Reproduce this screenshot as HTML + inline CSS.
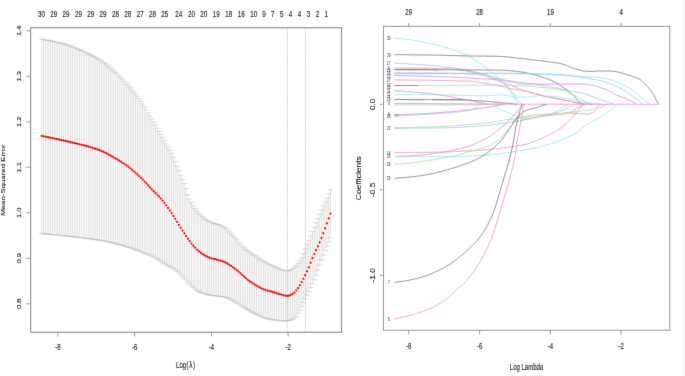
<!DOCTYPE html>
<html><head><meta charset="utf-8"><title>LASSO</title>
<style>
html,body{margin:0;padding:0;background:#fff;}
body{width:685px;height:376px;overflow:hidden;font-family:"Liberation Sans",sans-serif;}
svg{display:block;font-family:"Liberation Sans",sans-serif;}
</style></head><body>
<svg width="685" height="376" viewBox="0 0 685 376">
<defs><filter id="soft" x="0" y="0" width="685" height="376" filterUnits="userSpaceOnUse"><feConvolveMatrix order="3" kernelMatrix="0 1 0 1 8 1 0 1 0" divisor="12" edgeMode="duplicate" preserveAlpha="true"/></filter><filter id="softt" x="0" y="0" width="685" height="376" filterUnits="userSpaceOnUse"><feConvolveMatrix order="3" kernelMatrix="0 1 0 1 10 1 0 1 0" divisor="14" edgeMode="duplicate" preserveAlpha="false"/></filter></defs>
<g filter="url(#soft)"><rect x="-5" y="-5" width="695" height="386" fill="#ffffff"/>
<path d="M41.70,39.0V233.4M43.51,39.4V233.6M45.31,39.8V233.8M47.12,40.1V234.0M48.92,40.5V234.2M50.73,40.8V234.4M52.53,41.2V234.6M54.34,41.6V234.8M56.14,42.0V235.0M57.95,42.4V235.2M59.75,42.8V235.4M61.56,43.2V235.5M63.36,43.7V235.7M65.17,44.3V235.9M66.97,44.8V236.1M68.78,45.4V236.3M70.58,46.0V236.5M72.39,46.7V236.7M74.19,47.4V236.9M76.00,48.1V237.1M77.80,48.9V237.3M79.61,49.6V237.5M81.41,50.4V237.7M83.22,51.2V237.9M85.02,52.1V238.1M86.83,52.9V238.3M88.63,53.8V238.6M90.44,54.6V238.8M92.24,55.6V239.1M94.05,56.5V239.3M95.85,57.5V239.6M97.66,58.6V239.9M99.46,59.7V240.2M101.27,60.8V240.5M103.07,62.1V240.8M104.88,63.4V241.1M106.68,64.8V241.5M108.49,66.3V241.9M110.29,67.8V242.3M112.10,69.3V242.7M113.90,70.9V243.2M115.71,72.5V243.6M117.51,74.2V244.1M119.32,76.0V244.6M121.12,77.7V245.1M122.93,79.6V245.7M124.73,81.5V246.2M126.54,83.4V246.7M128.34,85.4V247.3M130.15,87.6V247.8M131.95,89.8V248.4M133.75,92.0V249.0M135.56,93.9V249.6M137.37,96.0V250.2M139.17,98.4V250.9M140.98,101.0V251.6M142.78,103.9V252.3M144.59,106.8V253.0M146.39,109.9V253.7M148.19,113.0V254.5M150.00,116.1V255.3M151.81,119.1V256.1M153.61,122.1V257.0M155.42,125.1V258.0M157.22,128.1V259.0M159.03,131.2V260.1M160.83,134.3V261.3M162.64,137.5V262.3M164.44,140.6V263.4M166.25,143.8V264.4M168.05,146.9V265.4M169.86,150.1V266.4M171.66,153.6V267.4M173.47,157.4V268.6M175.27,161.7V269.9M177.07,166.1V271.4M178.88,170.7V273.1M180.69,175.1V275.0M182.49,179.3V277.0M184.30,183.6V278.9M186.10,188.5V280.8M187.91,194.7V282.5M189.71,199.0V284.2M191.52,202.7V285.9M193.32,205.9V287.6M195.12,208.6V289.1M196.93,210.9V290.5M198.74,212.9V291.7M200.54,214.8V292.5M202.35,216.5V293.1M204.15,218.0V293.7M205.96,219.4V294.1M207.76,220.6V294.6M209.56,221.6V294.9M211.37,222.4V295.3M213.18,223.1V295.6M214.98,223.6V295.9M216.79,224.1V296.1M218.59,224.6V296.3M220.40,225.2V296.5M222.20,226.1V296.7M224.00,227.2V297.0M225.81,228.5V297.4M227.62,230.1V298.1M229.42,231.8V298.9M231.23,233.7V299.9M233.03,235.6V300.9M234.84,237.6V302.0M236.64,239.6V303.0M238.44,242.1V304.0M240.25,244.3V305.1M242.06,246.1V306.2M243.86,247.7V307.3M245.67,249.2V308.5M247.47,250.5V309.6M249.28,251.9V310.6M251.08,253.2V311.6M252.89,254.4V312.6M254.69,255.6V313.6M256.50,256.8V314.6M258.30,258.0V315.5M260.11,259.1V316.3M261.91,260.1V317.0M263.72,261.2V317.6M265.52,262.2V318.1M267.33,263.2V318.6M269.13,264.1V319.1M270.94,265.0V319.4M272.74,265.8V319.8M274.55,266.6V320.0M276.35,267.4V320.2M278.16,268.2V320.3M279.96,269.0V320.5M281.77,269.7V320.6M283.57,270.3V320.7M285.38,270.7V320.8M287.18,270.9V320.8M288.99,270.6V320.6M290.79,269.8V320.0M292.60,268.5V319.3M294.40,267.1V318.3M296.21,265.5V316.4M298.01,263.3V313.4M299.81,260.8V310.2M301.62,257.8V306.4M303.43,253.6V302.6M305.23,249.0V298.9M307.04,244.7V295.2M308.84,240.4V291.5M310.65,236.0V287.7M312.45,231.6V283.8M314.25,227.1V279.7M316.06,222.7V275.2M317.87,218.4V270.2M319.67,214.1V265.3M321.48,210.0V260.2M323.28,205.9V255.2M325.09,201.9V250.5M326.89,197.9V246.3M328.69,193.8V242.1M330.50,189.8V238.0" stroke="#c2c2c2" stroke-width="0.5" fill="none"/>
<path d="M38.90,39.0h5.6M38.90,233.4h5.6M40.71,39.4h5.6M40.71,233.6h5.6M42.51,39.8h5.6M42.51,233.8h5.6M44.32,40.1h5.6M44.32,234.0h5.6M46.12,40.5h5.6M46.12,234.2h5.6M47.93,40.8h5.6M47.93,234.4h5.6M49.73,41.2h5.6M49.73,234.6h5.6M51.54,41.6h5.6M51.54,234.8h5.6M53.34,42.0h5.6M53.34,235.0h5.6M55.15,42.4h5.6M55.15,235.2h5.6M56.95,42.8h5.6M56.95,235.4h5.6M58.76,43.2h5.6M58.76,235.5h5.6M60.56,43.7h5.6M60.56,235.7h5.6M62.37,44.3h5.6M62.37,235.9h5.6M64.17,44.8h5.6M64.17,236.1h5.6M65.98,45.4h5.6M65.98,236.3h5.6M67.78,46.0h5.6M67.78,236.5h5.6M69.59,46.7h5.6M69.59,236.7h5.6M71.39,47.4h5.6M71.39,236.9h5.6M73.20,48.1h5.6M73.20,237.1h5.6M75.00,48.9h5.6M75.00,237.3h5.6M76.81,49.6h5.6M76.81,237.5h5.6M78.61,50.4h5.6M78.61,237.7h5.6M80.42,51.2h5.6M80.42,237.9h5.6M82.22,52.1h5.6M82.22,238.1h5.6M84.03,52.9h5.6M84.03,238.3h5.6M85.83,53.8h5.6M85.83,238.6h5.6M87.64,54.6h5.6M87.64,238.8h5.6M89.44,55.6h5.6M89.44,239.1h5.6M91.25,56.5h5.6M91.25,239.3h5.6M93.05,57.5h5.6M93.05,239.6h5.6M94.86,58.6h5.6M94.86,239.9h5.6M96.66,59.7h5.6M96.66,240.2h5.6M98.47,60.8h5.6M98.47,240.5h5.6M100.27,62.1h5.6M100.27,240.8h5.6M102.08,63.4h5.6M102.08,241.1h5.6M103.88,64.8h5.6M103.88,241.5h5.6M105.69,66.3h5.6M105.69,241.9h5.6M107.49,67.8h5.6M107.49,242.3h5.6M109.30,69.3h5.6M109.30,242.7h5.6M111.10,70.9h5.6M111.10,243.2h5.6M112.91,72.5h5.6M112.91,243.6h5.6M114.71,74.2h5.6M114.71,244.1h5.6M116.52,76.0h5.6M116.52,244.6h5.6M118.32,77.7h5.6M118.32,245.1h5.6M120.13,79.6h5.6M120.13,245.7h5.6M121.93,81.5h5.6M121.93,246.2h5.6M123.74,83.4h5.6M123.74,246.7h5.6M125.54,85.4h5.6M125.54,247.3h5.6M127.35,87.6h5.6M127.35,247.8h5.6M129.15,89.8h5.6M129.15,248.4h5.6M130.95,92.0h5.6M130.95,249.0h5.6M132.76,93.9h5.6M132.76,249.6h5.6M134.56,96.0h5.6M134.56,250.2h5.6M136.37,98.4h5.6M136.37,250.9h5.6M138.18,101.0h5.6M138.18,251.6h5.6M139.98,103.9h5.6M139.98,252.3h5.6M141.78,106.8h5.6M141.78,253.0h5.6M143.59,109.9h5.6M143.59,253.7h5.6M145.39,113.0h5.6M145.39,254.5h5.6M147.20,116.1h5.6M147.20,255.3h5.6M149.00,119.1h5.6M149.00,256.1h5.6M150.81,122.1h5.6M150.81,257.0h5.6M152.62,125.1h5.6M152.62,258.0h5.6M154.42,128.1h5.6M154.42,259.0h5.6M156.23,131.2h5.6M156.23,260.1h5.6M158.03,134.3h5.6M158.03,261.3h5.6M159.84,137.5h5.6M159.84,262.3h5.6M161.64,140.6h5.6M161.64,263.4h5.6M163.44,143.8h5.6M163.44,264.4h5.6M165.25,146.9h5.6M165.25,265.4h5.6M167.06,150.1h5.6M167.06,266.4h5.6M168.86,153.6h5.6M168.86,267.4h5.6M170.67,157.4h5.6M170.67,268.6h5.6M172.47,161.7h5.6M172.47,269.9h5.6M174.27,166.1h5.6M174.27,271.4h5.6M176.08,170.7h5.6M176.08,273.1h5.6M177.88,175.1h5.6M177.88,275.0h5.6M179.69,179.3h5.6M179.69,277.0h5.6M181.50,183.6h5.6M181.50,278.9h5.6M183.30,188.5h5.6M183.30,280.8h5.6M185.11,194.7h5.6M185.11,282.5h5.6M186.91,199.0h5.6M186.91,284.2h5.6M188.72,202.7h5.6M188.72,285.9h5.6M190.52,205.9h5.6M190.52,287.6h5.6M192.32,208.6h5.6M192.32,289.1h5.6M194.13,210.9h5.6M194.13,290.5h5.6M195.94,212.9h5.6M195.94,291.7h5.6M197.74,214.8h5.6M197.74,292.5h5.6M199.55,216.5h5.6M199.55,293.1h5.6M201.35,218.0h5.6M201.35,293.7h5.6M203.16,219.4h5.6M203.16,294.1h5.6M204.96,220.6h5.6M204.96,294.6h5.6M206.76,221.6h5.6M206.76,294.9h5.6M208.57,222.4h5.6M208.57,295.3h5.6M210.38,223.1h5.6M210.38,295.6h5.6M212.18,223.6h5.6M212.18,295.9h5.6M213.99,224.1h5.6M213.99,296.1h5.6M215.79,224.6h5.6M215.79,296.3h5.6M217.60,225.2h5.6M217.60,296.5h5.6M219.40,226.1h5.6M219.40,296.7h5.6M221.20,227.2h5.6M221.20,297.0h5.6M223.01,228.5h5.6M223.01,297.4h5.6M224.81,230.1h5.6M224.81,298.1h5.6M226.62,231.8h5.6M226.62,298.9h5.6M228.43,233.7h5.6M228.43,299.9h5.6M230.23,235.6h5.6M230.23,300.9h5.6M232.04,237.6h5.6M232.04,302.0h5.6M233.84,239.6h5.6M233.84,303.0h5.6M235.64,242.1h5.6M235.64,304.0h5.6M237.45,244.3h5.6M237.45,305.1h5.6M239.25,246.1h5.6M239.25,306.2h5.6M241.06,247.7h5.6M241.06,307.3h5.6M242.87,249.2h5.6M242.87,308.5h5.6M244.67,250.5h5.6M244.67,309.6h5.6M246.48,251.9h5.6M246.48,310.6h5.6M248.28,253.2h5.6M248.28,311.6h5.6M250.09,254.4h5.6M250.09,312.6h5.6M251.89,255.6h5.6M251.89,313.6h5.6M253.69,256.8h5.6M253.69,314.6h5.6M255.50,258.0h5.6M255.50,315.5h5.6M257.31,259.1h5.6M257.31,316.3h5.6M259.11,260.1h5.6M259.11,317.0h5.6M260.92,261.2h5.6M260.92,317.6h5.6M262.72,262.2h5.6M262.72,318.1h5.6M264.53,263.2h5.6M264.53,318.6h5.6M266.33,264.1h5.6M266.33,319.1h5.6M268.13,265.0h5.6M268.13,319.4h5.6M269.94,265.8h5.6M269.94,319.8h5.6M271.75,266.6h5.6M271.75,320.0h5.6M273.55,267.4h5.6M273.55,320.2h5.6M275.36,268.2h5.6M275.36,320.3h5.6M277.16,269.0h5.6M277.16,320.5h5.6M278.97,269.7h5.6M278.97,320.6h5.6M280.77,270.3h5.6M280.77,320.7h5.6M282.57,270.7h5.6M282.57,320.8h5.6M284.38,270.9h5.6M284.38,320.8h5.6M286.19,270.6h5.6M286.19,320.6h5.6M287.99,269.8h5.6M287.99,320.0h5.6M289.80,268.5h5.6M289.80,319.3h5.6M291.60,267.1h5.6M291.60,318.3h5.6M293.41,265.5h5.6M293.41,316.4h5.6M295.21,263.3h5.6M295.21,313.4h5.6M297.01,260.8h5.6M297.01,310.2h5.6M298.82,257.8h5.6M298.82,306.4h5.6M300.62,253.6h5.6M300.62,302.6h5.6M302.43,249.0h5.6M302.43,298.9h5.6M304.24,244.7h5.6M304.24,295.2h5.6M306.04,240.4h5.6M306.04,291.5h5.6M307.85,236.0h5.6M307.85,287.7h5.6M309.65,231.6h5.6M309.65,283.8h5.6M311.45,227.1h5.6M311.45,279.7h5.6M313.26,222.7h5.6M313.26,275.2h5.6M315.06,218.4h5.6M315.06,270.2h5.6M316.87,214.1h5.6M316.87,265.3h5.6M318.68,210.0h5.6M318.68,260.2h5.6M320.48,205.9h5.6M320.48,255.2h5.6M322.29,201.9h5.6M322.29,250.5h5.6M324.09,197.9h5.6M324.09,246.3h5.6M325.89,193.8h5.6M325.89,242.1h5.6M327.70,189.8h5.6M327.70,238.0h5.6" stroke="#b2b2b2" stroke-width="0.5" fill="none"/>
<line x1="287.3" y1="27.7" x2="287.3" y2="332.3" stroke="#a8a8a8" stroke-width="0.7" stroke-dasharray="1.2,1"/>
<line x1="305.4" y1="27.7" x2="305.4" y2="332.3" stroke="#a8a8a8" stroke-width="0.7" stroke-dasharray="1.2,1"/>
<rect x="30.6" y="27.7" width="310.9" height="304.6" fill="none" stroke="#939393" stroke-width="1.25"/>
<line x1="57.9" y1="332.3" x2="57.9" y2="336.5" stroke="#8a8a8a" stroke-width="0.9"/>
<line x1="134.7" y1="332.3" x2="134.7" y2="336.5" stroke="#8a8a8a" stroke-width="0.9"/>
<line x1="211.5" y1="332.3" x2="211.5" y2="336.5" stroke="#8a8a8a" stroke-width="0.9"/>
<line x1="288.1" y1="332.3" x2="288.1" y2="336.5" stroke="#8a8a8a" stroke-width="0.9"/>
<line x1="26.400000000000002" y1="30.8" x2="30.6" y2="30.8" stroke="#8a8a8a" stroke-width="0.9"/>
<line x1="26.400000000000002" y1="76.3" x2="30.6" y2="76.3" stroke="#8a8a8a" stroke-width="0.9"/>
<line x1="26.400000000000002" y1="121.8" x2="30.6" y2="121.8" stroke="#8a8a8a" stroke-width="0.9"/>
<line x1="26.400000000000002" y1="167.3" x2="30.6" y2="167.3" stroke="#8a8a8a" stroke-width="0.9"/>
<line x1="26.400000000000002" y1="212.8" x2="30.6" y2="212.8" stroke="#8a8a8a" stroke-width="0.9"/>
<line x1="26.400000000000002" y1="258.3" x2="30.6" y2="258.3" stroke="#8a8a8a" stroke-width="0.9"/>
<line x1="26.400000000000002" y1="303.8" x2="30.6" y2="303.8" stroke="#8a8a8a" stroke-width="0.9"/>
<path d="M394.3,38.0 L395.8,38.2 L397.3,38.3 L398.8,38.5 L400.3,38.6 L401.8,38.8 L403.3,38.9 L404.8,39.1 L406.3,39.3 L407.8,39.4 L409.3,39.6 L410.8,39.8 L412.3,40.0 L413.8,40.2 L415.3,40.4 L416.8,40.7 L418.3,40.9 L419.8,41.2 L421.3,41.5 L422.8,41.8 L424.3,42.2 L425.8,42.5 L427.3,42.9 L428.8,43.2 L430.3,43.6 L431.8,44.0 L433.3,44.3 L434.8,44.7 L436.3,45.1 L437.8,45.4 L439.3,45.8 L440.8,46.2 L442.3,46.6 L443.8,47.0 L445.3,47.4 L446.8,47.8 L448.3,48.2 L449.8,48.7 L451.3,49.1 L452.8,49.6 L454.3,50.1 L455.8,50.7 L457.3,51.2 L458.8,51.8 L460.3,52.4 L461.8,53.0 L463.3,53.6 L464.8,54.3 L466.3,55.0 L467.8,55.7 L469.3,56.5 L470.8,57.4 L472.3,58.3 L473.8,59.2 L475.3,60.2 L476.8,61.2 L478.3,62.2 L479.8,63.1 L481.3,64.1 L482.8,65.2 L484.3,66.2 L485.8,67.3 L487.3,68.5 L488.8,69.7 L490.3,70.9 L491.8,72.2 L493.3,73.6 L494.8,75.0 L496.3,76.4 L497.8,77.9 L499.3,79.2 L500.8,80.6 L502.3,82.0 L503.8,83.4 L505.3,84.9 L506.8,86.6 L508.3,88.5 L509.8,90.7 L511.3,92.9 L512.8,95.3 L514.3,97.8 L515.8,100.4 L517.3,103.1 L518.0,104.3" stroke="#86e8ec" stroke-width="0.8" fill="none" stroke-linejoin="round"/>
<path d="M394.3,54.6 L395.8,54.6 L397.3,54.6 L398.8,54.6 L400.3,54.7 L401.8,54.7 L403.3,54.7 L404.8,54.7 L406.3,54.7 L407.8,54.7 L409.3,54.8 L410.8,54.8 L412.3,54.8 L413.8,54.8 L415.3,54.8 L416.8,54.8 L418.3,54.9 L419.8,54.9 L421.3,54.9 L422.8,54.9 L424.3,54.9 L425.8,55.0 L427.3,55.0 L428.8,55.0 L430.3,55.0 L431.8,55.0 L433.3,55.1 L434.8,55.1 L436.3,55.1 L437.8,55.2 L439.3,55.2 L440.8,55.2 L442.3,55.3 L443.8,55.3 L445.3,55.4 L446.8,55.4 L448.3,55.4 L449.8,55.5 L451.3,55.5 L452.8,55.6 L454.3,55.6 L455.8,55.6 L457.3,55.7 L458.8,55.7 L460.3,55.8 L461.8,55.8 L463.3,55.8 L464.8,55.9 L466.3,55.9 L467.8,55.9 L469.3,55.9 L470.8,56.0 L472.3,56.0 L473.8,56.0 L475.3,56.0 L476.8,56.0 L478.3,56.1 L479.8,56.1 L481.3,56.1 L482.8,56.1 L484.3,56.1 L485.8,56.1 L487.3,56.2 L488.8,56.2 L490.3,56.2 L491.8,56.2 L493.3,56.2 L494.8,56.3 L496.3,56.3 L497.8,56.3 L499.3,56.4 L500.8,56.4 L502.3,56.5 L503.8,56.6 L505.3,56.7 L506.8,56.8 L508.3,57.0 L509.8,57.2 L511.3,57.3 L512.8,57.5 L514.3,57.7 L515.8,57.9 L517.3,58.1 L518.8,58.2 L520.3,58.4 L521.8,58.6 L523.3,58.8 L524.8,58.9 L526.3,59.1 L527.8,59.3 L529.3,59.4 L530.8,59.6 L532.3,59.8 L533.8,60.0 L535.3,60.1 L536.8,60.3 L538.3,60.5 L539.8,60.7 L541.3,60.9 L542.8,61.1 L544.3,61.3 L545.8,61.5 L547.3,61.7 L548.8,61.9 L550.3,62.0 L551.8,62.2 L553.3,62.4 L554.8,62.7 L556.3,62.9 L557.8,63.1 L559.3,63.4 L560.8,63.7 L562.3,64.0 L563.8,64.4 L565.3,64.9 L566.8,65.5 L568.3,66.2 L569.8,66.9 L571.3,67.5 L572.8,68.1 L574.3,68.6 L575.8,69.1 L577.3,69.6 L578.8,70.0 L580.3,70.4 L581.8,70.8 L583.3,71.0 L584.8,71.2 L586.3,71.3 L587.8,71.4 L589.3,71.5 L590.8,71.5 L592.3,71.4 L593.8,71.4 L595.3,71.2 L596.8,71.1 L598.3,71.0 L599.8,71.0 L601.3,71.0 L602.8,71.0 L604.3,71.0 L605.8,71.0 L607.3,71.0 L608.8,71.0 L610.3,71.0 L611.8,71.1 L613.3,71.2 L614.8,71.5 L616.3,71.7 L617.8,72.0 L619.3,72.4 L620.8,72.7 L622.3,73.1 L623.8,73.5 L625.3,74.0 L626.8,74.5 L628.3,75.0 L629.8,75.5 L631.3,76.0 L632.8,76.5 L634.3,77.0 L635.8,77.5 L637.3,78.1 L638.8,78.8 L640.3,79.7 L641.8,80.9 L643.3,82.2 L644.8,83.6 L646.3,85.1 L647.8,86.8 L649.3,88.6 L650.8,90.6 L652.3,92.8 L653.8,95.5 L655.3,98.2 L656.8,100.9 L658.3,103.4 L658.8,104.3" stroke="#707070" stroke-width="0.8" fill="none" stroke-linejoin="round"/>
<path d="M394.3,63.2 L395.8,63.3 L397.3,63.4 L398.8,63.4 L400.3,63.5 L401.8,63.6 L403.3,63.7 L404.8,63.7 L406.3,63.8 L407.8,63.9 L409.3,64.0 L410.8,64.0 L412.3,64.1 L413.8,64.2 L415.3,64.3 L416.8,64.4 L418.3,64.5 L419.8,64.6 L421.3,64.6 L422.8,64.7 L424.3,64.8 L425.8,65.0 L427.3,65.1 L428.8,65.2 L430.3,65.3 L431.8,65.5 L433.3,65.6 L434.8,65.8 L436.3,65.9 L437.8,66.1 L439.3,66.2 L440.8,66.4 L442.3,66.6 L443.8,66.7 L445.3,66.9 L446.8,67.1 L448.3,67.3 L449.8,67.5 L451.3,67.7 L452.8,67.9 L454.3,68.1 L455.8,68.3 L457.3,68.5 L458.8,68.7 L460.3,68.9 L461.8,69.2 L463.3,69.4 L464.8,69.7 L466.3,70.0 L467.8,70.2 L469.3,70.5 L470.8,70.9 L472.3,71.2 L473.8,71.6 L475.3,71.9 L476.8,72.3 L478.3,72.7 L479.8,73.1 L481.3,73.5 L482.8,73.9 L484.3,74.4 L485.8,74.8 L487.3,75.2 L488.8,75.6 L490.3,76.0 L491.8,76.5 L493.3,76.9 L494.8,77.4 L496.3,77.9 L497.8,78.3 L499.3,78.7 L500.8,79.0 L502.3,79.3 L503.8,79.6 L505.3,79.9 L506.8,80.2 L508.3,80.5 L509.8,80.8 L511.3,81.0 L512.8,81.3 L514.3,81.5 L515.8,81.7 L517.3,81.9 L518.8,82.2 L520.3,82.4 L521.8,82.6 L523.3,82.8 L524.8,83.0 L526.3,83.2 L527.8,83.4 L529.3,83.6 L530.8,83.7 L532.3,83.9 L533.8,84.1 L535.3,84.3 L536.8,84.5 L538.3,84.7 L539.8,84.9 L541.3,85.1 L542.8,85.3 L544.3,85.6 L545.8,85.8 L547.3,86.1 L548.8,86.4 L550.3,86.7 L551.8,87.0 L553.3,87.3 L554.8,87.7 L556.3,88.0 L557.8,88.3 L559.3,88.6 L560.8,88.9 L562.3,89.2 L563.8,89.5 L565.3,89.8 L566.8,90.1 L568.3,90.4 L569.8,90.6 L571.3,90.9 L572.8,91.2 L574.3,91.5 L575.8,91.8 L577.3,92.0 L578.8,92.4 L580.3,92.7 L581.8,93.0 L583.3,93.4 L584.8,93.8 L586.3,94.2 L587.8,94.7 L589.3,95.3 L590.8,95.8 L592.3,96.4 L593.8,97.0 L595.3,97.6 L596.8,98.2 L598.3,98.7 L599.8,99.3 L601.3,99.8 L602.8,100.3 L604.3,100.8 L605.8,101.3 L607.3,101.9 L608.8,102.4 L610.3,102.9 L611.8,103.4 L613.3,103.9 L614.4,104.3" stroke="#92c6f2" stroke-width="0.8" fill="none" stroke-linejoin="round"/>
<path d="M394.3,68.0 L395.8,68.0 L397.3,68.0 L398.8,68.0 L400.3,68.1 L401.8,68.1 L403.3,68.1 L404.8,68.1 L406.3,68.1 L407.8,68.1 L409.3,68.1 L410.8,68.2 L412.3,68.2 L413.8,68.2 L415.3,68.2 L416.8,68.2 L418.3,68.2 L419.8,68.2 L421.3,68.2 L422.8,68.2 L424.3,68.3 L425.8,68.3 L427.3,68.3 L428.8,68.3 L430.3,68.3 L431.8,68.3 L433.3,68.4 L434.8,68.4 L436.3,68.4 L437.8,68.4 L439.3,68.5 L440.8,68.5 L442.3,68.5 L443.8,68.6 L445.3,68.6 L446.8,68.6 L448.3,68.7 L449.8,68.8 L451.3,68.9 L452.8,69.0 L454.3,69.2 L455.8,69.3 L457.3,69.5 L458.8,69.7 L460.3,69.9 L461.8,70.2 L463.3,70.4 L464.8,70.7 L466.3,71.0 L467.8,71.3 L469.3,71.5 L470.8,71.9 L472.3,72.2 L473.8,72.5 L475.3,72.8 L476.8,73.1 L478.3,73.5 L479.8,73.9 L481.3,74.3 L482.8,74.8 L484.3,75.3 L485.8,75.9 L487.3,76.5 L488.8,77.1 L490.3,77.8 L491.8,78.4 L493.3,79.0 L494.8,79.6 L496.3,80.2 L497.8,80.8 L499.3,81.3 L500.8,81.9 L502.3,82.4 L503.8,82.9 L505.3,83.4 L506.8,83.9 L508.3,84.4 L509.8,84.9 L511.3,85.5 L512.8,86.1 L514.3,86.7 L515.8,87.4 L517.3,88.0 L518.8,88.6 L520.3,89.2 L521.8,89.7 L523.3,90.2 L524.8,90.6 L526.3,91.1 L527.8,91.6 L529.3,92.0 L530.8,92.4 L532.3,92.8 L533.8,93.2 L535.3,93.6 L536.8,94.0 L538.3,94.4 L539.8,94.8 L541.3,95.2 L542.8,95.5 L544.3,95.9 L545.8,96.3 L547.3,96.6 L548.8,97.0 L550.3,97.3 L551.8,97.6 L553.3,98.0 L554.8,98.3 L556.3,98.6 L557.8,98.9 L559.3,99.2 L560.8,99.5 L562.3,99.8 L563.8,100.1 L565.3,100.4 L566.8,100.6 L568.3,100.9 L569.8,101.2 L571.3,101.5 L572.8,101.8 L574.3,102.1 L575.8,102.5 L577.3,102.8 L578.8,103.1 L580.3,103.5 L581.8,103.8 L583.3,104.1 L584.0,104.3" stroke="#ee8fa0" stroke-width="0.8" fill="none" stroke-linejoin="round"/>
<path d="M394.3,69.6 L395.8,69.6 L397.3,69.6 L398.8,69.6 L400.3,69.6 L401.8,69.6 L403.3,69.6 L404.8,69.6 L406.3,69.6 L407.8,69.7 L409.3,69.7 L410.8,69.7 L412.3,69.7 L413.8,69.7 L415.3,69.7 L416.8,69.7 L418.3,69.7 L419.8,69.7 L421.3,69.7 L422.8,69.7 L424.3,69.7 L425.8,69.7 L427.3,69.7 L428.8,69.7 L430.3,69.7 L431.8,69.7 L433.3,69.7 L434.8,69.8 L436.3,69.8 L437.8,69.8 L439.3,69.8 L440.8,69.8 L442.3,69.8 L443.8,69.8 L445.3,69.8 L446.8,69.8 L448.3,69.8 L449.8,69.8 L451.3,69.8 L452.8,69.8 L454.3,69.8 L455.8,69.8 L457.3,69.8 L458.8,69.8 L460.3,69.9 L461.8,69.9 L463.3,69.9 L464.8,69.9 L466.3,69.9 L467.8,69.9 L469.3,69.9 L470.8,69.9 L472.3,69.9 L473.8,69.9 L475.3,69.9 L476.8,69.9 L478.3,69.9 L479.8,69.9 L481.3,69.9 L482.8,70.0 L484.3,70.0 L485.8,70.0 L487.3,70.0 L488.8,70.0 L490.3,70.0 L491.8,70.0 L493.3,70.0 L494.8,70.1 L496.3,70.1 L497.8,70.1 L499.3,70.1 L500.8,70.1 L502.3,70.2 L503.8,70.3 L505.3,70.4 L506.8,70.5 L508.3,70.6 L509.8,70.7 L511.3,70.9 L512.8,71.0 L514.3,71.2 L515.8,71.4 L517.3,71.5 L518.8,71.7 L520.3,71.9 L521.8,72.1 L523.3,72.3 L524.8,72.6 L526.3,72.9 L527.8,73.2 L529.3,73.5 L530.8,73.9 L532.3,74.2 L533.8,74.6 L535.3,75.0 L536.8,75.4 L538.3,75.8 L539.8,76.3 L541.3,76.7 L542.8,77.2 L544.3,77.7 L545.8,78.3 L547.3,78.8 L548.8,79.4 L550.3,80.0 L551.8,80.7 L553.3,81.4 L554.8,82.1 L556.3,83.0 L557.8,83.8 L559.3,84.8 L560.8,85.8 L562.3,86.8 L563.8,87.8 L565.3,88.8 L566.8,89.9 L568.3,91.1 L569.8,92.3 L571.3,93.6 L572.8,94.9 L574.3,96.4 L575.8,98.1 L577.3,99.9 L578.8,101.7 L580.3,103.6 L580.9,104.3" stroke="#707070" stroke-width="0.8" fill="none" stroke-linejoin="round"/>
<path d="M394.3,74.0 L395.8,74.0 L397.3,74.0 L398.8,74.0 L400.3,74.0 L401.8,74.0 L403.3,74.0 L404.8,74.0 L406.3,74.0 L407.8,73.9 L409.3,73.9 L410.8,73.9 L412.3,73.9 L413.8,73.9 L415.3,73.9 L416.8,73.9 L418.3,73.9 L419.8,73.9 L421.3,73.9 L422.8,73.9 L424.3,73.9 L425.8,73.9 L427.3,73.8 L428.8,73.8 L430.3,73.8 L431.8,73.8 L433.3,73.8 L434.8,73.8 L436.3,73.8 L437.8,73.8 L439.3,73.8 L440.8,73.8 L442.3,73.8 L443.8,73.8 L445.3,73.8 L446.8,73.8 L448.3,73.7 L449.8,73.7 L451.3,73.7 L452.8,73.7 L454.3,73.7 L455.8,73.7 L457.3,73.7 L458.8,73.7 L460.3,73.7 L461.8,73.7 L463.3,73.7 L464.8,73.7 L466.3,73.7 L467.8,73.7 L469.3,73.7 L470.8,73.7 L472.3,73.6 L473.8,73.6 L475.3,73.6 L476.8,73.6 L478.3,73.6 L479.8,73.6 L481.3,73.6 L482.8,73.6 L484.3,73.6 L485.8,73.6 L487.3,73.6 L488.8,73.6 L490.3,73.6 L491.8,73.6 L493.3,73.6 L494.8,73.6 L496.3,73.6 L497.8,73.6 L499.3,73.6 L500.8,73.6 L502.3,73.6 L503.8,73.6 L505.3,73.6 L506.8,73.6 L508.3,73.6 L509.8,73.6 L511.3,73.7 L512.8,73.7 L514.3,73.7 L515.8,73.7 L517.3,73.7 L518.8,73.8 L520.3,73.8 L521.8,73.8 L523.3,73.9 L524.8,73.9 L526.3,73.9 L527.8,73.9 L529.3,74.0 L530.8,74.0 L532.3,74.1 L533.8,74.1 L535.3,74.1 L536.8,74.2 L538.3,74.2 L539.8,74.2 L541.3,74.3 L542.8,74.3 L544.3,74.4 L545.8,74.4 L547.3,74.5 L548.8,74.6 L550.3,74.7 L551.8,74.7 L553.3,74.8 L554.8,74.9 L556.3,75.0 L557.8,75.1 L559.3,75.2 L560.8,75.4 L562.3,75.5 L563.8,75.6 L565.3,75.7 L566.8,75.8 L568.3,75.9 L569.8,76.0 L571.3,76.1 L572.8,76.2 L574.3,76.2 L575.8,76.3 L577.3,76.4 L578.8,76.4 L580.3,76.5 L581.8,76.6 L583.3,76.6 L584.8,76.7 L586.3,76.7 L587.8,76.8 L589.3,76.8 L590.8,76.9 L592.3,77.0 L593.8,77.1 L595.3,77.2 L596.8,77.3 L598.3,77.4 L599.8,77.5 L601.3,77.6 L602.8,77.8 L604.3,78.1 L605.8,78.4 L607.3,78.7 L608.8,79.1 L610.3,79.5 L611.8,79.9 L613.3,80.4 L614.8,80.9 L616.3,81.5 L617.8,82.1 L619.3,82.8 L620.8,83.5 L622.3,84.2 L623.8,85.0 L625.3,85.9 L626.8,86.8 L628.3,87.7 L629.8,88.7 L631.3,89.7 L632.8,90.7 L634.3,91.8 L635.8,93.0 L637.3,94.2 L638.8,95.3 L640.3,96.5 L641.8,97.8 L643.3,99.0 L644.8,100.3 L646.3,101.6 L647.8,102.9 L649.3,104.2 L649.4,104.3" stroke="#86e8ec" stroke-width="0.8" fill="none" stroke-linejoin="round"/>
<path d="M394.3,73.4 L395.8,73.4 L397.3,73.4 L398.8,73.4 L400.3,73.4 L401.8,73.4 L403.3,73.4 L404.8,73.4 L406.3,73.4 L407.8,73.4 L409.3,73.4 L410.8,73.4 L412.3,73.4 L413.8,73.4 L415.3,73.4 L416.8,73.4 L418.3,73.3 L419.8,73.3 L421.3,73.3 L422.8,73.3 L424.3,73.3 L425.8,73.3 L427.3,73.3 L428.8,73.3 L430.3,73.3 L431.8,73.3 L433.3,73.3 L434.8,73.3 L436.3,73.3 L437.8,73.3 L439.3,73.3 L440.8,73.3 L442.3,73.3 L443.8,73.3 L445.3,73.3 L446.8,73.3 L448.3,73.3 L449.8,73.3 L451.3,73.3 L452.8,73.3 L454.3,73.3 L455.8,73.3 L457.3,73.3 L458.8,73.2 L460.3,73.2 L461.8,73.2 L463.3,73.2 L464.8,73.2 L466.3,73.2 L467.8,73.2 L469.3,73.2 L470.8,73.2 L472.3,73.2 L473.8,73.2 L475.3,73.2 L476.8,73.2 L478.3,73.2 L479.8,73.2 L481.3,73.2 L482.8,73.2 L484.3,73.2 L485.8,73.2 L487.3,73.2 L488.8,73.2 L490.3,73.2 L491.8,73.2 L493.3,73.2 L494.8,73.2 L496.3,73.2 L497.8,73.2 L499.3,73.2 L500.8,73.2 L502.3,73.2 L503.8,73.2 L505.3,73.2 L506.8,73.2 L508.3,73.2 L509.8,73.2 L511.3,73.2 L512.8,73.3 L514.3,73.3 L515.8,73.3 L517.3,73.3 L518.8,73.3 L520.3,73.4 L521.8,73.4 L523.3,73.4 L524.8,73.4 L526.3,73.5 L527.8,73.5 L529.3,73.5 L530.8,73.6 L532.3,73.6 L533.8,73.6 L535.3,73.7 L536.8,73.7 L538.3,73.8 L539.8,73.8 L541.3,73.9 L542.8,73.9 L544.3,73.9 L545.8,74.0 L547.3,74.1 L548.8,74.1 L550.3,74.2 L551.8,74.2 L553.3,74.3 L554.8,74.3 L556.3,74.4 L557.8,74.5 L559.3,74.5 L560.8,74.6 L562.3,74.7 L563.8,74.7 L565.3,74.8 L566.8,75.0 L568.3,75.2 L569.8,75.4 L571.3,75.6 L572.8,75.8 L574.3,76.1 L575.8,76.3 L577.3,76.6 L578.8,76.9 L580.3,77.1 L581.8,77.4 L583.3,77.7 L584.8,77.9 L586.3,78.1 L587.8,78.4 L589.3,78.6 L590.8,78.9 L592.3,79.1 L593.8,79.4 L595.3,79.6 L596.8,79.9 L598.3,80.2 L599.8,80.6 L601.3,80.9 L602.8,81.3 L604.3,81.8 L605.8,82.3 L607.3,82.8 L608.8,83.4 L610.3,83.9 L611.8,84.5 L613.3,85.1 L614.8,85.7 L616.3,86.3 L617.8,87.0 L619.3,87.7 L620.8,88.5 L622.3,89.4 L623.8,90.3 L625.3,91.2 L626.8,92.2 L628.3,93.2 L629.8,94.3 L631.3,95.3 L632.8,96.4 L634.3,97.6 L635.8,98.7 L637.3,99.8 L638.8,101.0 L640.3,102.1 L641.8,103.3 L643.1,104.3" stroke="#92c6f2" stroke-width="0.8" fill="none" stroke-linejoin="round"/>
<path d="M394.3,72.8 L395.8,72.8 L397.3,72.8 L398.8,72.8 L400.3,72.8 L401.8,72.9 L403.3,72.9 L404.8,72.9 L406.3,72.9 L407.8,72.9 L409.3,72.9 L410.8,72.9 L412.3,72.9 L413.8,72.9 L415.3,72.9 L416.8,72.9 L418.3,72.9 L419.8,73.0 L421.3,73.0 L422.8,73.0 L424.3,73.0 L425.8,73.0 L427.3,73.0 L428.8,73.0 L430.3,73.0 L431.8,73.0 L433.3,73.1 L434.8,73.1 L436.3,73.1 L437.8,73.1 L439.3,73.1 L440.8,73.1 L442.3,73.2 L443.8,73.2 L445.3,73.2 L446.8,73.2 L448.3,73.2 L449.8,73.3 L451.3,73.3 L452.8,73.3 L454.3,73.4 L455.8,73.4 L457.3,73.5 L458.8,73.5 L460.3,73.6 L461.8,73.6 L463.3,73.7 L464.8,73.8 L466.3,73.8 L467.8,73.9 L469.3,74.0 L470.8,74.1 L472.3,74.2 L473.8,74.2 L475.3,74.3 L476.8,74.4 L478.3,74.6 L479.8,74.7 L481.3,74.9 L482.8,75.1 L484.3,75.3 L485.8,75.6 L487.3,75.8 L488.8,76.2 L490.3,76.5 L491.8,77.0 L493.3,77.6 L494.8,78.2 L496.3,78.8 L497.8,79.6 L499.3,80.3 L500.8,81.2 L502.3,82.1 L503.8,83.2 L505.3,84.5 L506.8,85.9 L508.3,87.3 L509.8,88.9 L511.3,90.7 L512.8,92.7 L514.3,94.7 L515.8,96.9 L517.3,99.1 L518.8,101.0 L520.3,102.7 L521.7,104.3" stroke="#92c6f2" stroke-width="0.8" fill="none" stroke-linejoin="round"/>
<path d="M394.3,75.6 L395.8,75.6 L397.3,75.7 L398.8,75.7 L400.3,75.7 L401.8,75.8 L403.3,75.8 L404.8,75.8 L406.3,75.9 L407.8,75.9 L409.3,75.9 L410.8,76.0 L412.3,76.0 L413.8,76.0 L415.3,76.1 L416.8,76.1 L418.3,76.1 L419.8,76.2 L421.3,76.2 L422.8,76.2 L424.3,76.3 L425.8,76.3 L427.3,76.4 L428.8,76.4 L430.3,76.4 L431.8,76.5 L433.3,76.5 L434.8,76.5 L436.3,76.6 L437.8,76.6 L439.3,76.7 L440.8,76.7 L442.3,76.8 L443.8,76.8 L445.3,76.9 L446.8,76.9 L448.3,77.0 L449.8,77.0 L451.3,77.1 L452.8,77.2 L454.3,77.3 L455.8,77.3 L457.3,77.4 L458.8,77.5 L460.3,77.6 L461.8,77.7 L463.3,77.7 L464.8,77.8 L466.3,77.9 L467.8,78.0 L469.3,78.1 L470.8,78.2 L472.3,78.3 L473.8,78.4 L475.3,78.5 L476.8,78.6 L478.3,78.6 L479.8,78.7 L481.3,78.8 L482.8,78.9 L484.3,79.0 L485.8,79.0 L487.3,79.1 L488.8,79.2 L490.3,79.3 L491.8,79.4 L493.3,79.5 L494.8,79.6 L496.3,79.7 L497.8,79.8 L499.3,79.9 L500.8,80.1 L502.3,80.3 L503.8,80.6 L505.3,80.9 L506.8,81.2 L508.3,81.6 L509.8,81.9 L511.3,82.1 L512.8,82.4 L514.3,82.7 L515.8,83.0 L517.3,83.3 L518.8,83.5 L520.3,83.7 L521.8,83.7 L523.3,83.8 L524.8,83.8 L526.3,83.9 L527.8,83.9 L529.3,84.0 L530.8,84.0 L532.3,84.0 L533.8,84.0 L535.3,84.1 L536.8,84.1 L538.3,84.1 L539.8,84.1 L541.3,84.1 L542.8,84.1 L544.3,84.1 L545.8,84.1 L547.3,84.1 L548.8,84.1 L550.3,84.1 L551.8,84.1 L553.3,84.1 L554.8,84.1 L556.3,84.1 L557.8,84.1 L559.3,84.1 L560.8,84.1 L562.3,84.1 L563.8,84.1 L565.3,84.1 L566.8,84.1 L568.3,84.1 L569.8,84.1 L571.3,84.1 L572.8,84.1 L574.3,84.1 L575.8,84.1 L577.3,84.1 L578.8,84.1 L580.3,84.1 L581.8,84.1 L583.3,84.1 L584.8,84.1 L586.3,84.2 L587.8,84.4 L589.3,84.6 L590.8,84.9 L592.3,85.2 L593.8,85.5 L595.3,86.0 L596.8,86.5 L598.3,86.9 L599.8,87.4 L601.3,87.9 L602.8,88.4 L604.3,89.0 L605.8,89.5 L607.3,90.1 L608.8,90.8 L610.3,91.4 L611.8,92.3 L613.3,93.3 L614.8,94.2 L616.3,95.0 L617.8,95.6 L619.3,96.1 L620.8,96.6 L622.3,97.1 L623.8,97.6 L625.3,98.2 L626.8,98.9 L628.3,99.7 L629.8,100.5 L631.3,101.3 L632.8,102.1 L634.3,102.9 L635.8,103.7 L636.9,104.3" stroke="#e27cd8" stroke-width="0.8" fill="none" stroke-linejoin="round"/>
<path d="M394.3,79.8 L395.8,79.8 L397.3,79.9 L398.8,79.9 L400.3,79.9 L401.8,79.9 L403.3,79.9 L404.8,80.0 L406.3,80.0 L407.8,80.0 L409.3,80.0 L410.8,80.0 L412.3,80.1 L413.8,80.1 L415.3,80.1 L416.8,80.1 L418.3,80.1 L419.8,80.1 L421.3,80.2 L422.8,80.2 L424.3,80.2 L425.8,80.2 L427.3,80.2 L428.8,80.3 L430.3,80.3 L431.8,80.3 L433.3,80.3 L434.8,80.3 L436.3,80.4 L437.8,80.4 L439.3,80.4 L440.8,80.4 L442.3,80.5 L443.8,80.5 L445.3,80.5 L446.8,80.5 L448.3,80.6 L449.8,80.6 L451.3,80.6 L452.8,80.7 L454.3,80.7 L455.8,80.7 L457.3,80.8 L458.8,80.8 L460.3,80.9 L461.8,80.9 L463.3,81.0 L464.8,81.0 L466.3,81.1 L467.8,81.1 L469.3,81.2 L470.8,81.3 L472.3,81.5 L473.8,81.6 L475.3,81.8 L476.8,82.0 L478.3,82.2 L479.8,82.5 L481.3,82.7 L482.8,83.0 L484.3,83.2 L485.8,83.4 L487.3,83.7 L488.8,83.9 L490.3,84.2 L491.8,84.4 L493.3,84.7 L494.8,85.0 L496.3,85.2 L497.8,85.5 L499.3,85.9 L500.8,86.2 L502.3,86.5 L503.8,86.9 L505.3,87.3 L506.8,87.8 L508.3,88.2 L509.8,88.5 L511.3,88.9 L512.8,89.1 L514.3,89.4 L515.8,89.6 L517.3,89.8 L518.8,90.0 L520.3,90.3 L521.8,90.5 L523.3,90.8 L524.8,91.2 L526.3,91.5 L527.8,91.9 L529.3,92.3 L530.8,92.7 L532.3,93.1 L533.8,93.6 L535.3,94.0 L536.8,94.4 L538.3,94.8 L539.8,95.2 L541.3,95.5 L542.8,95.9 L544.3,96.2 L545.8,96.5 L547.3,96.8 L548.8,97.1 L550.3,97.4 L551.8,97.7 L553.3,98.0 L554.8,98.3 L556.3,98.6 L557.8,98.9 L559.3,99.2 L560.8,99.5 L562.3,99.7 L563.8,100.0 L565.3,100.3 L566.8,100.7 L568.3,101.0 L569.8,101.3 L571.3,101.6 L572.8,101.9 L574.3,102.2 L575.8,102.5 L577.3,102.7 L578.8,102.9 L580.3,103.1 L581.8,103.3 L583.3,103.5 L584.8,103.6 L586.3,103.8 L587.8,103.9 L589.3,104.0 L590.8,104.1 L592.3,104.3 L592.5,104.3" stroke="#ee8fa0" stroke-width="0.8" fill="none" stroke-linejoin="round"/>
<path d="M394.3,85.5 L395.8,85.5 L397.3,85.5 L398.8,85.5 L400.3,85.5 L401.8,85.5 L403.3,85.5 L404.8,85.5 L406.3,85.5 L407.8,85.5 L409.3,85.5 L410.8,85.4 L412.3,85.4 L413.8,85.4 L415.3,85.4 L416.8,85.4 L418.3,85.4 L419.8,85.4 L421.3,85.4 L422.8,85.4 L424.3,85.4 L425.8,85.4 L427.3,85.4 L428.8,85.4 L430.3,85.4 L431.8,85.4 L433.3,85.4 L434.8,85.4 L436.3,85.4 L437.8,85.3 L439.3,85.3 L440.8,85.3 L442.3,85.3 L443.8,85.3 L445.3,85.3 L446.8,85.3 L448.3,85.3 L449.8,85.3 L451.3,85.3 L452.8,85.3 L454.3,85.3 L455.8,85.3 L457.3,85.3 L458.8,85.3 L460.3,85.3 L461.8,85.3 L463.3,85.3 L464.8,85.3 L466.3,85.3 L467.8,85.2 L469.3,85.2 L470.8,85.2 L472.3,85.2 L473.8,85.2 L475.3,85.2 L476.8,85.2 L478.3,85.2 L479.8,85.2 L481.3,85.2 L482.8,85.2 L484.3,85.2 L485.8,85.2 L487.3,85.2 L488.8,85.2 L490.3,85.2 L491.8,85.2 L493.3,85.2 L494.8,85.2 L496.3,85.2 L497.8,85.2 L499.3,85.2 L500.8,85.2 L502.3,85.2 L503.8,85.2 L505.3,85.2 L506.8,85.3 L508.3,85.3 L509.8,85.3 L511.3,85.4 L512.8,85.4 L514.3,85.5 L515.8,85.5 L517.3,85.6 L518.8,85.6 L520.3,85.7 L521.8,85.8 L523.3,85.8 L524.8,85.9 L526.3,86.0 L527.8,86.0 L529.3,86.1 L530.8,86.2 L532.3,86.3 L533.8,86.5 L535.3,86.6 L536.8,86.8 L538.3,86.9 L539.8,87.1 L541.3,87.2 L542.8,87.4 L544.3,87.6 L545.8,87.7 L547.3,87.9 L548.8,88.1 L550.3,88.3 L551.8,88.5 L553.3,88.7 L554.8,88.9 L556.3,89.1 L557.8,89.4 L559.3,89.7 L560.8,90.0 L562.3,90.3 L563.8,90.7 L565.3,91.2 L566.8,91.8 L568.3,92.4 L569.8,93.2 L571.3,93.9 L572.8,94.7 L574.3,95.5 L575.8,96.2 L577.3,97.1 L578.8,98.0 L580.3,98.8 L581.8,99.7 L583.3,100.6 L584.8,101.4 L586.3,102.2 L587.8,102.9 L589.3,103.7 L590.4,104.3" stroke="#a0e096" stroke-width="0.8" fill="none" stroke-linejoin="round"/>
<path d="M394.3,90.7 L395.8,90.8 L397.3,90.9 L398.8,91.0 L400.3,91.1 L401.8,91.2 L403.3,91.3 L404.8,91.5 L406.3,91.6 L407.8,91.7 L409.3,91.8 L410.8,91.9 L412.3,92.0 L413.8,92.1 L415.3,92.3 L416.8,92.4 L418.3,92.5 L419.8,92.7 L421.3,92.8 L422.8,92.9 L424.3,93.1 L425.8,93.2 L427.3,93.4 L428.8,93.5 L430.3,93.7 L431.8,93.8 L433.3,94.0 L434.8,94.2 L436.3,94.4 L437.8,94.6 L439.3,94.8 L440.8,95.0 L442.3,95.3 L443.8,95.5 L445.3,95.8 L446.8,96.1 L448.3,96.3 L449.8,96.6 L451.3,96.9 L452.8,97.2 L454.3,97.5 L455.8,97.8 L457.3,98.0 L458.8,98.3 L460.3,98.6 L461.8,98.9 L463.3,99.2 L464.8,99.5 L466.3,99.8 L467.8,100.1 L469.3,100.4 L470.8,100.7 L472.3,101.0 L473.8,101.3 L475.3,101.6 L476.8,101.9 L478.3,102.2 L479.8,102.6 L481.3,102.9 L482.8,103.2 L484.3,103.5 L485.8,103.8 L487.3,104.1 L488.1,104.3" stroke="#e27cd8" stroke-width="0.8" fill="none" stroke-linejoin="round"/>
<path d="M394.3,94.3 L395.8,94.3 L397.3,94.3 L398.8,94.4 L400.3,94.4 L401.8,94.4 L403.3,94.4 L404.8,94.4 L406.3,94.5 L407.8,94.5 L409.3,94.5 L410.8,94.5 L412.3,94.5 L413.8,94.6 L415.3,94.6 L416.8,94.6 L418.3,94.6 L419.8,94.6 L421.3,94.6 L422.8,94.7 L424.3,94.7 L425.8,94.7 L427.3,94.7 L428.8,94.7 L430.3,94.8 L431.8,94.8 L433.3,94.8 L434.8,94.8 L436.3,94.9 L437.8,94.9 L439.3,94.9 L440.8,94.9 L442.3,94.9 L443.8,95.0 L445.3,95.0 L446.8,95.0 L448.3,95.0 L449.8,95.1 L451.3,95.1 L452.8,95.1 L454.3,95.2 L455.8,95.2 L457.3,95.2 L458.8,95.3 L460.3,95.3 L461.8,95.4 L463.3,95.4 L464.8,95.4 L466.3,95.5 L467.8,95.5 L469.3,95.5 L470.8,95.6 L472.3,95.6 L473.8,95.6 L475.3,95.7 L476.8,95.7 L478.3,95.7 L479.8,95.7 L481.3,95.8 L482.8,95.8 L484.3,95.8 L485.8,95.8 L487.3,95.8 L488.8,95.8 L490.3,95.7 L491.8,95.6 L493.3,95.5 L494.8,95.4 L496.3,95.3 L497.8,95.2 L499.3,95.1 L500.8,95.1 L502.3,95.2 L503.8,95.3 L505.3,95.4 L506.8,95.6 L508.3,95.8 L509.8,96.0 L511.3,96.3 L512.8,96.5 L514.3,96.7 L515.8,96.9 L517.3,97.0 L518.8,97.1 L520.3,97.2 L521.8,97.2 L523.3,97.1 L524.8,97.1 L526.3,97.0 L527.8,96.8 L529.3,96.7 L530.8,96.5 L532.3,96.4 L533.8,96.2 L535.3,96.1 L536.8,95.9 L538.3,95.8 L539.8,95.7 L541.3,95.7 L542.8,95.7 L544.3,95.7 L545.8,95.8 L547.3,95.9 L548.8,96.0 L550.3,96.2 L551.8,96.3 L553.3,96.5 L554.8,96.7 L556.3,96.9 L557.8,97.1 L559.3,97.3 L560.8,97.5 L562.3,97.7 L563.8,97.9 L565.3,98.1 L566.8,98.4 L568.3,98.7 L569.8,99.0 L571.3,99.3 L572.8,99.6 L574.3,100.0 L575.8,100.3 L577.3,100.7 L578.8,101.0 L580.3,101.3 L581.8,101.6 L583.3,101.9 L584.8,102.1 L586.3,102.3 L587.8,102.6 L589.3,102.8 L590.8,103.0 L592.3,103.2 L593.8,103.4 L595.3,103.6 L596.8,103.7 L598.3,103.9 L599.8,104.1 L601.0,104.3" stroke="#86e8ec" stroke-width="0.8" fill="none" stroke-linejoin="round"/>
<path d="M394.3,99.5 L395.8,99.5 L397.3,99.5 L398.8,99.5 L400.3,99.5 L401.8,99.5 L403.3,99.6 L404.8,99.6 L406.3,99.6 L407.8,99.6 L409.3,99.6 L410.8,99.6 L412.3,99.6 L413.8,99.6 L415.3,99.6 L416.8,99.6 L418.3,99.6 L419.8,99.6 L421.3,99.6 L422.8,99.7 L424.3,99.7 L425.8,99.7 L427.3,99.7 L428.8,99.7 L430.3,99.7 L431.8,99.7 L433.3,99.7 L434.8,99.7 L436.3,99.7 L437.8,99.7 L439.3,99.8 L440.8,99.8 L442.3,99.8 L443.8,99.8 L445.3,99.8 L446.8,99.8 L448.3,99.8 L449.8,99.8 L451.3,99.9 L452.8,99.9 L454.3,99.9 L455.8,99.9 L457.3,99.9 L458.8,99.9 L460.3,100.0 L461.8,100.0 L463.3,100.0 L464.8,100.0 L466.3,100.1 L467.8,100.1 L469.3,100.2 L470.8,100.3 L472.3,100.4 L473.8,100.5 L475.3,100.6 L476.8,100.7 L478.3,100.8 L479.8,100.9 L481.3,101.0 L482.8,101.1 L484.3,101.2 L485.8,101.3 L487.3,101.4 L488.8,101.6 L490.3,101.7 L491.8,101.8 L493.3,101.9 L494.8,102.1 L496.3,102.2 L497.8,102.4 L499.3,102.5 L500.8,102.7 L502.3,102.8 L503.8,103.0 L505.3,103.1 L506.8,103.3 L508.3,103.4 L509.8,103.6 L511.3,103.7 L512.8,103.9 L514.3,104.0 L515.8,104.2 L516.8,104.3" stroke="#707070" stroke-width="0.8" fill="none" stroke-linejoin="round"/>
<path d="M394.3,104.9 L395.8,104.9 L397.3,104.9 L398.8,104.9 L400.3,104.9 L401.8,104.9 L403.3,104.9 L404.8,104.9 L406.3,104.9 L407.8,104.9 L409.3,104.9 L410.8,104.9 L412.3,104.9 L413.8,104.9 L415.3,104.9 L416.8,104.9 L418.3,104.9 L419.8,104.9 L421.3,104.9 L422.8,104.9 L424.3,104.9 L425.8,104.9 L427.3,104.9 L428.8,104.9 L430.3,104.9 L431.8,104.9 L433.3,104.9 L434.8,104.9 L436.3,104.8 L437.8,104.8 L439.3,104.8 L440.8,104.8 L442.3,104.8 L443.8,104.8 L445.3,104.8 L446.8,104.8 L448.3,104.8 L449.8,104.8 L451.3,104.8 L452.8,104.8 L454.3,104.8 L455.8,104.8 L457.3,104.8 L458.8,104.8 L460.3,104.8 L461.8,104.8 L463.3,104.8 L464.8,104.8 L466.3,104.8 L467.8,104.8 L469.3,104.7 L470.8,104.7 L472.3,104.7 L473.8,104.7 L475.3,104.7 L476.8,104.6 L478.3,104.6 L479.8,104.6 L481.3,104.6 L482.8,104.6 L484.3,104.5 L485.8,104.5 L487.3,104.5 L488.8,104.5 L490.3,104.4 L491.8,104.4 L493.3,104.4 L494.8,104.4 L496.3,104.3 L497.8,104.3 L499.3,104.3 L500.0,104.3" stroke="#a0e096" stroke-width="0.8" fill="none" stroke-linejoin="round"/>
<path d="M394.3,103.4 L395.8,103.4 L397.3,103.4 L398.8,103.4 L400.3,103.4 L401.8,103.4 L403.3,103.5 L404.8,103.5 L406.3,103.5 L407.8,103.5 L409.3,103.5 L410.8,103.5 L412.3,103.5 L413.8,103.5 L415.3,103.5 L416.8,103.6 L418.3,103.6 L419.8,103.6 L421.3,103.6 L422.8,103.6 L424.3,103.6 L425.8,103.6 L427.3,103.6 L428.8,103.6 L430.3,103.7 L431.8,103.7 L433.3,103.7 L434.8,103.7 L436.3,103.7 L437.8,103.7 L439.3,103.7 L440.8,103.7 L442.3,103.7 L443.8,103.8 L445.3,103.8 L446.8,103.8 L448.3,103.8 L449.8,103.8 L451.3,103.8 L452.8,103.8 L454.3,103.8 L455.8,103.8 L457.3,103.9 L458.8,103.9 L460.3,103.9 L461.8,103.9 L463.3,103.9 L464.8,103.9 L466.3,103.9 L467.8,103.9 L469.3,103.9 L470.8,103.9 L472.3,104.0 L473.8,104.0 L475.3,104.0 L476.8,104.0 L478.3,104.0 L479.8,104.0 L481.3,104.0 L482.8,104.0 L484.3,104.0 L485.8,104.0 L487.3,104.1 L488.8,104.1 L490.3,104.1 L491.8,104.1 L493.3,104.1 L494.8,104.1 L496.3,104.1 L497.8,104.1 L499.3,104.1 L500.8,104.1 L502.3,104.1 L503.8,104.1 L505.3,104.1 L506.8,104.1 L508.3,104.2 L509.8,104.2 L511.3,104.2 L512.8,104.2 L514.3,104.2 L515.8,104.2 L517.3,104.2 L518.8,104.2 L520.3,104.2 L521.8,104.2 L523.3,104.2 L524.8,104.2 L526.3,104.2 L527.8,104.2 L529.3,104.2 L530.8,104.2 L532.3,104.2 L533.8,104.2 L535.3,104.2 L536.8,104.2 L538.3,104.2 L539.8,104.2 L541.3,104.2 L542.8,104.2 L544.3,104.2 L545.8,104.2 L547.3,104.2 L548.8,104.2 L550.3,104.2 L551.8,104.2 L553.3,104.2 L554.8,104.2 L556.3,104.2 L557.8,104.2 L559.3,104.2 L560.8,104.2 L562.3,104.2 L563.8,104.2 L565.3,104.2 L566.8,104.2 L568.3,104.2 L569.8,104.2 L571.3,104.2 L572.8,104.2 L574.3,104.2 L575.8,104.2 L577.3,104.2 L578.8,104.3 L580.3,104.3 L581.8,104.3 L583.3,104.3 L584.8,104.3 L586.3,104.3 L587.8,104.3 L589.3,104.3 L590.8,104.3 L592.3,104.3 L593.8,104.3 L595.3,104.3 L596.8,104.3 L598.3,104.3 L599.8,104.3 L601.3,104.3 L602.8,104.3 L604.3,104.3 L605.8,104.3 L607.3,104.3 L608.8,104.3 L610.3,104.3 L611.8,104.3 L613.3,104.3 L614.8,104.3 L616.3,104.3 L617.8,104.3 L619.3,104.3 L620.8,104.3 L622.3,104.3 L623.8,104.3 L625.3,104.3 L626.8,104.3 L628.3,104.3 L629.8,104.3 L631.3,104.3 L632.8,104.3 L634.3,104.3 L635.8,104.3 L637.3,104.3 L638.8,104.3 L640.3,104.3 L641.8,104.3 L643.3,104.3 L644.8,104.3 L646.3,104.3 L647.8,104.3 L649.3,104.3 L650.8,104.3 L652.3,104.3 L653.8,104.3 L655.3,104.3 L656.8,104.3 L658.3,104.3 L658.8,104.3" stroke="#e27cd8" stroke-width="0.8" fill="none" stroke-linejoin="round"/>
<path d="M394.3,114.8 L395.8,114.7 L397.3,114.7 L398.8,114.6 L400.3,114.6 L401.8,114.5 L403.3,114.4 L404.8,114.4 L406.3,114.3 L407.8,114.3 L409.3,114.2 L410.8,114.1 L412.3,114.1 L413.8,114.0 L415.3,114.0 L416.8,113.9 L418.3,113.8 L419.8,113.8 L421.3,113.7 L422.8,113.6 L424.3,113.5 L425.8,113.5 L427.3,113.4 L428.8,113.3 L430.3,113.2 L431.8,113.1 L433.3,113.0 L434.8,112.9 L436.3,112.8 L437.8,112.7 L439.3,112.6 L440.8,112.5 L442.3,112.4 L443.8,112.3 L445.3,112.2 L446.8,112.0 L448.3,111.9 L449.8,111.8 L451.3,111.6 L452.8,111.5 L454.3,111.4 L455.8,111.2 L457.3,111.1 L458.8,110.9 L460.3,110.8 L461.8,110.6 L463.3,110.4 L464.8,110.3 L466.3,110.1 L467.8,109.9 L469.3,109.7 L470.8,109.6 L472.3,109.4 L473.8,109.2 L475.3,109.0 L476.8,108.8 L478.3,108.6 L479.8,108.4 L481.3,108.2 L482.8,108.0 L484.3,107.8 L485.8,107.5 L487.3,107.3 L488.8,107.1 L490.3,106.9 L491.8,106.6 L493.3,106.4 L494.8,106.1 L496.3,105.8 L497.8,105.6 L499.3,105.3 L500.8,105.0 L502.3,104.8 L503.8,104.5 L505.0,104.3" stroke="#e27cd8" stroke-width="0.8" fill="none" stroke-linejoin="round"/>
<path d="M394.3,116.3 L395.8,116.2 L397.3,116.1 L398.8,116.0 L400.3,116.0 L401.8,115.9 L403.3,115.8 L404.8,115.7 L406.3,115.6 L407.8,115.5 L409.3,115.4 L410.8,115.4 L412.3,115.3 L413.8,115.2 L415.3,115.1 L416.8,115.0 L418.3,114.9 L419.8,114.8 L421.3,114.7 L422.8,114.6 L424.3,114.5 L425.8,114.4 L427.3,114.4 L428.8,114.3 L430.3,114.2 L431.8,114.1 L433.3,114.0 L434.8,113.9 L436.3,113.8 L437.8,113.6 L439.3,113.5 L440.8,113.4 L442.3,113.3 L443.8,113.2 L445.3,113.1 L446.8,112.9 L448.3,112.8 L449.8,112.7 L451.3,112.5 L452.8,112.4 L454.3,112.3 L455.8,112.1 L457.3,112.0 L458.8,111.8 L460.3,111.6 L461.8,111.4 L463.3,111.2 L464.8,111.0 L466.3,110.7 L467.8,110.5 L469.3,110.1 L470.8,109.7 L472.3,109.2 L473.8,108.6 L475.3,108.0 L476.8,107.2 L478.3,106.1 L479.8,105.0 L480.7,104.3" stroke="#92c6f2" stroke-width="0.8" fill="none" stroke-linejoin="round"/>
<path d="M394.3,127.8 L395.8,127.8 L397.3,127.7 L398.8,127.7 L400.3,127.6 L401.8,127.6 L403.3,127.5 L404.8,127.5 L406.3,127.5 L407.8,127.4 L409.3,127.4 L410.8,127.3 L412.3,127.3 L413.8,127.3 L415.3,127.2 L416.8,127.2 L418.3,127.1 L419.8,127.1 L421.3,127.1 L422.8,127.0 L424.3,127.0 L425.8,126.9 L427.3,126.9 L428.8,126.8 L430.3,126.8 L431.8,126.7 L433.3,126.7 L434.8,126.6 L436.3,126.6 L437.8,126.5 L439.3,126.5 L440.8,126.4 L442.3,126.4 L443.8,126.3 L445.3,126.2 L446.8,126.2 L448.3,126.1 L449.8,126.0 L451.3,125.9 L452.8,125.8 L454.3,125.7 L455.8,125.6 L457.3,125.5 L458.8,125.4 L460.3,125.3 L461.8,125.1 L463.3,125.0 L464.8,124.9 L466.3,124.8 L467.8,124.6 L469.3,124.5 L470.8,124.4 L472.3,124.2 L473.8,124.1 L475.3,124.0 L476.8,123.8 L478.3,123.7 L479.8,123.5 L481.3,123.4 L482.8,123.2 L484.3,123.0 L485.8,122.9 L487.3,122.7 L488.8,122.5 L490.3,122.3 L491.8,122.1 L493.3,121.9 L494.8,121.6 L496.3,121.4 L497.8,121.2 L499.3,120.9 L500.8,120.7 L502.3,120.4 L503.8,120.2 L505.3,119.9 L506.8,119.7 L508.3,119.5 L509.8,119.3 L511.3,119.1 L512.8,119.0 L514.3,118.8 L515.8,118.7 L517.3,118.5 L518.8,118.4 L520.3,118.2 L521.8,118.0 L523.3,117.9 L524.8,117.7 L526.3,117.4 L527.8,117.1 L529.3,116.7 L530.8,116.3 L532.3,116.0 L533.8,115.7 L535.3,115.5 L536.8,115.4 L538.3,115.2 L539.8,115.0 L541.3,114.9 L542.8,114.8 L544.3,114.7 L545.8,114.5 L547.3,114.4 L548.8,114.3 L550.3,114.2 L551.8,114.0 L553.3,113.9 L554.8,113.7 L556.3,113.6 L557.8,113.4 L559.3,113.3 L560.8,113.2 L562.3,113.0 L563.8,112.9 L565.3,112.7 L566.8,112.6 L568.3,112.4 L569.8,112.3 L571.3,112.1 L572.8,111.9 L574.3,111.8 L575.8,111.6 L577.3,111.5 L578.8,111.3 L580.3,111.2 L581.8,111.0 L583.3,110.9 L584.8,110.7 L586.3,110.5 L587.8,110.3 L589.3,110.0 L590.8,109.7 L592.3,109.3 L593.8,108.7 L595.3,107.9 L596.8,107.0 L598.3,106.1 L599.8,105.2 L601.3,104.4 L601.4,104.3" stroke="#a0e096" stroke-width="0.8" fill="none" stroke-linejoin="round"/>
<path d="M394.3,128.3 L395.8,128.3 L397.3,128.3 L398.8,128.3 L400.3,128.2 L401.8,128.2 L403.3,128.2 L404.8,128.2 L406.3,128.2 L407.8,128.2 L409.3,128.2 L410.8,128.2 L412.3,128.2 L413.8,128.1 L415.3,128.1 L416.8,128.1 L418.3,128.1 L419.8,128.1 L421.3,128.1 L422.8,128.1 L424.3,128.1 L425.8,128.1 L427.3,128.0 L428.8,128.0 L430.3,128.0 L431.8,128.0 L433.3,128.0 L434.8,128.0 L436.3,127.9 L437.8,127.9 L439.3,127.9 L440.8,127.9 L442.3,127.9 L443.8,127.8 L445.3,127.8 L446.8,127.8 L448.3,127.8 L449.8,127.7 L451.3,127.7 L452.8,127.6 L454.3,127.5 L455.8,127.5 L457.3,127.4 L458.8,127.3 L460.3,127.2 L461.8,127.2 L463.3,127.1 L464.8,127.0 L466.3,126.9 L467.8,126.8 L469.3,126.7 L470.8,126.5 L472.3,126.4 L473.8,126.3 L475.3,126.2 L476.8,126.1 L478.3,125.9 L479.8,125.8 L481.3,125.7 L482.8,125.6 L484.3,125.4 L485.8,125.3 L487.3,125.2 L488.8,125.0 L490.3,124.9 L491.8,124.8 L493.3,124.6 L494.8,124.4 L496.3,124.3 L497.8,124.1 L499.3,123.9 L500.8,123.7 L502.3,123.5 L503.8,123.3 L505.3,123.1 L506.8,122.9 L508.3,122.7 L509.8,122.5 L511.3,122.3 L512.8,122.0 L514.3,121.8 L515.8,121.5 L517.3,121.3 L518.8,121.0 L520.3,120.7 L521.8,120.4 L523.3,120.1 L524.8,119.8 L526.3,119.5 L527.8,119.2 L529.3,118.9 L530.8,118.6 L532.3,118.3 L533.8,117.9 L535.3,117.6 L536.8,117.3 L538.3,116.9 L539.8,116.6 L541.3,116.3 L542.8,115.9 L544.3,115.6 L545.8,115.4 L547.3,115.1 L548.8,114.8 L550.3,114.5 L551.8,114.2 L553.3,113.8 L554.8,113.4 L556.3,112.8 L557.8,112.2 L559.3,111.6 L560.8,111.0 L562.3,110.3 L563.8,109.6 L565.3,108.9 L566.8,108.2 L568.3,107.4 L569.8,106.6 L571.3,105.8 L572.8,105.0 L574.1,104.3" stroke="#92c6f2" stroke-width="0.8" fill="none" stroke-linejoin="round"/>
<path d="M492.0,104.3 L493.5,105.2 L495.0,106.2 L496.5,107.1 L498.0,108.0 L499.5,108.9 L501.0,109.6 L502.5,110.3 L504.0,111.0 L505.5,111.6 L507.0,112.2 L508.5,112.9 L510.0,113.5 L511.5,114.1 L513.0,114.7 L514.5,115.4 L516.0,116.0 L517.5,116.6 L519.0,117.1 L520.5,117.6 L522.0,118.0 L523.5,118.4 L525.0,118.9 L526.5,119.3 L527.0,119.4" stroke="#86e8ec" stroke-width="0.8" fill="none" stroke-linejoin="round"/>
<path d="M394.3,152.6 L395.8,152.6 L397.3,152.6 L398.8,152.6 L400.3,152.5 L401.8,152.5 L403.3,152.5 L404.8,152.5 L406.3,152.5 L407.8,152.5 L409.3,152.5 L410.8,152.4 L412.3,152.4 L413.8,152.4 L415.3,152.4 L416.8,152.4 L418.3,152.4 L419.8,152.4 L421.3,152.3 L422.8,152.3 L424.3,152.3 L425.8,152.3 L427.3,152.3 L428.8,152.3 L430.3,152.2 L431.8,152.2 L433.3,152.2 L434.8,152.2 L436.3,152.2 L437.8,152.1 L439.3,152.1 L440.8,152.1 L442.3,152.1 L443.8,152.0 L445.3,152.0 L446.8,152.0 L448.3,151.9 L449.8,151.9 L451.3,151.8 L452.8,151.8 L454.3,151.7 L455.8,151.6 L457.3,151.6 L458.8,151.5 L460.3,151.4 L461.8,151.3 L463.3,151.2 L464.8,151.1 L466.3,151.0 L467.8,151.0 L469.3,150.9 L470.8,150.8 L472.3,150.7 L473.8,150.6 L475.3,150.5 L476.8,150.4 L478.3,150.3 L479.8,150.2 L481.3,150.1 L482.8,149.9 L484.3,149.8 L485.8,149.7 L487.3,149.6 L488.8,149.4 L490.3,149.3 L491.8,149.2 L493.3,149.0 L494.8,148.9 L496.3,148.7 L497.8,148.6 L499.3,148.4 L500.8,148.2 L502.3,148.1 L503.8,147.9 L505.3,147.7 L506.8,147.5 L508.3,147.3 L509.8,147.1 L511.3,146.9 L512.8,146.7 L514.3,146.5 L515.8,146.2 L517.3,146.0 L518.8,145.7 L520.3,145.4 L521.8,145.2 L523.3,144.9 L524.8,144.5 L526.3,144.2 L527.8,143.8 L529.3,143.3 L530.8,142.8 L532.3,142.2 L533.8,141.6 L535.3,141.0 L536.8,140.4 L538.3,139.8 L539.8,139.2 L541.3,138.6 L542.8,137.9 L544.3,137.2 L545.8,136.6 L547.3,135.8 L548.8,135.1 L550.3,134.3 L551.8,133.5 L553.3,132.7 L554.8,131.8 L556.3,130.9 L557.8,130.0 L559.3,129.0 L560.8,127.9 L562.3,126.8 L563.8,125.7 L565.3,124.4 L566.8,123.2 L568.3,121.8 L569.8,120.3 L571.3,118.7 L572.8,116.9 L574.3,115.1 L575.8,113.4 L577.3,111.6 L578.8,109.9 L580.3,108.1 L581.8,106.3 L583.3,104.5 L583.5,104.3" stroke="#ee8fa0" stroke-width="0.8" fill="none" stroke-linejoin="round"/>
<path d="M395.6,156.6 L397.1,156.5 L398.6,156.4 L400.1,156.3 L401.6,156.2 L403.1,156.2 L404.6,156.1 L406.1,156.0 L407.6,155.9 L409.1,155.8 L410.6,155.7 L412.1,155.6 L413.6,155.6 L415.1,155.5 L416.6,155.4 L418.1,155.3 L419.6,155.1 L421.1,155.0 L422.6,154.9 L424.1,154.8 L425.6,154.6 L427.1,154.5 L428.6,154.3 L430.1,154.1 L431.6,153.9 L433.1,153.7 L434.6,153.5 L436.1,153.3 L437.6,153.0 L439.1,152.8 L440.6,152.5 L442.1,152.3 L443.6,152.0 L445.1,151.8 L446.6,151.5 L448.1,151.2 L449.6,150.9 L451.1,150.6 L452.6,150.4 L454.1,150.0 L455.6,149.7 L457.1,149.4 L458.6,149.1 L460.1,148.7 L461.6,148.3 L463.1,147.9 L464.6,147.5 L466.1,147.1 L467.6,146.6 L469.1,146.1 L470.6,145.6 L472.1,145.0 L473.6,144.4 L475.1,143.7 L476.6,143.0 L478.1,142.4 L479.6,141.7 L481.1,141.0 L482.6,140.3 L484.1,139.5 L485.6,138.7 L487.1,137.9 L488.6,137.0 L490.1,136.1 L491.6,135.1 L493.1,134.0 L494.6,133.0 L496.1,131.8 L497.6,130.7 L499.1,129.5 L500.6,128.3 L502.1,127.0 L503.6,125.7 L505.1,124.3 L506.6,122.9 L508.1,121.5 L509.6,120.0 L511.1,118.4 L512.6,116.8 L514.1,115.0 L515.6,113.3 L517.1,111.5 L518.6,109.7 L520.1,107.8 L521.6,105.8 L522.8,104.3" stroke="#e27cd8" stroke-width="0.8" fill="none" stroke-linejoin="round"/>
<path d="M395.6,156.8 L397.1,156.8 L398.6,156.8 L400.1,156.8 L401.6,156.8 L403.1,156.8 L404.6,156.8 L406.1,156.8 L407.6,156.8 L409.1,156.8 L410.6,156.8 L412.1,156.7 L413.6,156.7 L415.1,156.7 L416.6,156.7 L418.1,156.7 L419.6,156.7 L421.1,156.7 L422.6,156.7 L424.1,156.7 L425.6,156.7 L427.1,156.7 L428.6,156.7 L430.1,156.7 L431.6,156.7 L433.1,156.7 L434.6,156.7 L436.1,156.7 L437.6,156.7 L439.1,156.6 L440.6,156.6 L442.1,156.6 L443.6,156.6 L445.1,156.6 L446.6,156.6 L448.1,156.6 L449.6,156.6 L451.1,156.5 L452.6,156.5 L454.1,156.5 L455.6,156.5 L457.1,156.4 L458.6,156.4 L460.1,156.4 L461.6,156.3 L463.1,156.3 L464.6,156.3 L466.1,156.2 L467.6,156.2 L469.1,156.1 L470.6,156.1 L472.1,156.0 L473.6,155.9 L475.1,155.8 L476.6,155.8 L478.1,155.7 L479.6,155.6 L481.1,155.4 L482.6,155.3 L484.1,155.2 L485.6,155.1 L487.1,155.0 L488.6,154.9 L490.1,154.7 L491.6,154.6 L493.1,154.4 L494.6,154.3 L496.1,154.1 L497.6,154.0 L499.1,153.8 L500.6,153.6 L502.1,153.4 L503.6,153.2 L505.1,153.0 L506.6,152.8 L508.1,152.6 L509.6,152.4 L511.1,152.2 L512.6,152.0 L514.1,151.8 L515.6,151.5 L517.1,151.3 L518.6,151.1 L520.1,150.8 L521.6,150.6 L523.1,150.3 L524.6,150.0 L526.1,149.8 L527.6,149.5 L529.1,149.2 L530.6,148.9 L532.1,148.6 L533.6,148.3 L535.1,147.9 L536.6,147.6 L538.1,147.2 L539.6,146.8 L541.1,146.5 L542.6,146.1 L544.1,145.6 L545.6,145.2 L547.1,144.8 L548.6,144.3 L550.1,143.9 L551.6,143.4 L553.1,142.9 L554.6,142.4 L556.1,141.9 L557.6,141.3 L559.1,140.8 L560.6,140.2 L562.1,139.6 L563.6,139.0 L565.1,138.3 L566.6,137.6 L568.1,136.9 L569.6,136.2 L571.1,135.5 L572.6,134.7 L574.1,133.9 L575.6,133.0 L577.1,132.0 L578.6,131.0 L580.1,129.9 L581.6,128.7 L583.1,127.5 L584.6,126.4 L586.1,125.3 L587.6,124.2 L589.1,123.2 L590.6,122.3 L592.1,121.4 L593.6,120.6 L595.1,119.8 L596.6,119.0 L598.1,118.2 L599.6,117.4 L601.1,116.5 L602.6,115.6 L604.1,114.6 L605.6,113.6 L607.1,112.4 L608.6,111.3 L610.1,110.1 L611.6,108.9 L613.1,107.7 L614.6,106.5 L616.1,105.2 L617.2,104.3" stroke="#86e8ec" stroke-width="0.8" fill="none" stroke-linejoin="round"/>
<path d="M394.3,164.4 L395.8,164.3 L397.3,164.1 L398.8,164.0 L400.3,163.9 L401.8,163.7 L403.3,163.6 L404.8,163.5 L406.3,163.3 L407.8,163.2 L409.3,163.0 L410.8,162.9 L412.3,162.7 L413.8,162.6 L415.3,162.4 L416.8,162.2 L418.3,162.0 L419.8,161.8 L421.3,161.6 L422.8,161.4 L424.3,161.2 L425.8,161.0 L427.3,160.8 L428.8,160.5 L430.3,160.3 L431.8,160.0 L433.3,159.8 L434.8,159.5 L436.3,159.3 L437.8,159.0 L439.3,158.8 L440.8,158.5 L442.3,158.2 L443.8,157.9 L445.3,157.6 L446.8,157.3 L448.3,157.0 L449.8,156.7 L451.3,156.4 L452.8,156.1 L454.3,155.7 L455.8,155.4 L457.3,155.0 L458.8,154.7 L460.3,154.3 L461.8,153.9 L463.3,153.5 L464.8,153.1 L466.3,152.6 L467.8,152.2 L469.3,151.8 L470.8,151.3 L472.3,150.9 L473.8,150.4 L475.3,150.0 L476.8,149.5 L478.3,149.1 L479.8,148.7 L481.3,148.3 L482.8,147.9 L484.3,147.5 L485.8,147.0 L487.3,146.5 L488.8,146.0 L490.3,145.4 L491.8,144.6 L493.3,143.7 L494.8,142.7 L496.3,141.6 L497.8,140.4 L499.3,139.1 L500.8,137.8 L502.3,136.4 L503.8,134.8 L505.3,133.2 L506.8,131.4 L508.3,129.6 L509.8,127.9 L511.3,126.2 L512.8,124.2 L514.3,122.1 L515.8,120.1 L517.3,118.4 L518.8,117.3 L520.3,116.9 L521.8,116.6 L523.3,116.4 L524.8,116.2 L526.3,116.1 L527.8,115.9 L529.3,115.8 L530.8,115.6 L532.3,115.5 L533.8,115.3 L535.3,115.1 L536.8,115.0 L538.3,114.8 L539.8,114.7 L541.3,114.6 L542.8,114.4 L544.3,114.3 L545.8,114.1 L547.3,113.9 L548.8,113.7 L550.3,113.4 L551.8,113.2 L553.3,112.9 L554.8,112.3 L556.3,111.5 L557.8,110.4 L559.3,109.3 L560.8,108.2 L562.3,107.3 L563.8,106.5 L565.3,105.9 L566.8,105.4 L568.3,104.9 L569.8,104.4 L570.0,104.3" stroke="#a0e096" stroke-width="0.8" fill="none" stroke-linejoin="round"/>
<path d="M394.4,178.4 L395.9,178.3 L397.4,178.1 L398.9,178.0 L400.4,177.8 L401.9,177.7 L403.4,177.6 L404.9,177.4 L406.4,177.3 L407.9,177.2 L409.4,177.0 L410.9,176.9 L412.4,176.7 L413.9,176.6 L415.4,176.4 L416.9,176.2 L418.4,176.0 L419.9,175.8 L421.4,175.6 L422.9,175.4 L424.4,175.2 L425.9,174.9 L427.4,174.6 L428.9,174.3 L430.4,174.0 L431.9,173.7 L433.4,173.3 L434.9,173.0 L436.4,172.6 L437.9,172.2 L439.4,171.8 L440.9,171.5 L442.4,171.1 L443.9,170.7 L445.4,170.3 L446.9,169.9 L448.4,169.5 L449.9,169.0 L451.4,168.6 L452.9,168.1 L454.4,167.7 L455.9,167.2 L457.4,166.7 L458.9,166.2 L460.4,165.7 L461.9,165.2 L463.4,164.6 L464.9,164.1 L466.4,163.6 L467.9,163.0 L469.4,162.4 L470.9,161.9 L472.4,161.2 L473.9,160.6 L475.4,159.9 L476.9,159.2 L478.4,158.4 L479.9,157.6 L481.4,156.7 L482.9,155.8 L484.4,154.9 L485.9,153.8 L487.4,152.7 L488.9,151.6 L490.4,150.4 L491.9,149.2 L493.4,147.9 L494.9,146.6 L496.4,145.3 L497.9,143.9 L499.4,142.4 L500.9,140.8 L502.4,138.9 L503.9,136.9 L505.4,134.8 L506.9,132.6 L508.4,130.4 L509.9,128.1 L511.4,125.9 L512.9,123.5 L514.4,121.1 L515.9,118.8 L517.4,117.0 L518.9,115.5 L520.4,114.2 L521.9,113.0 L523.4,111.9 L524.9,111.0 L526.4,110.3 L527.9,109.7 L529.4,109.3 L530.9,108.9 L532.4,108.6 L533.9,108.3 L535.4,107.9 L536.9,107.5 L538.4,107.0 L539.9,106.6 L541.4,106.1 L542.9,105.6 L544.4,105.1 L545.9,104.6 L546.8,104.3" stroke="#707070" stroke-width="0.8" fill="none" stroke-linejoin="round"/>
<path d="M394.4,282.4 L395.9,282.2 L397.4,282.0 L398.9,281.8 L400.4,281.6 L401.9,281.4 L403.4,281.2 L404.9,281.0 L406.4,280.7 L407.9,280.5 L409.4,280.2 L410.9,279.9 L412.4,279.6 L413.9,279.2 L415.4,278.9 L416.9,278.5 L418.4,278.1 L419.9,277.7 L421.4,277.3 L422.9,276.8 L424.4,276.3 L425.9,275.8 L427.4,275.2 L428.9,274.7 L430.4,274.1 L431.9,273.5 L433.4,272.8 L434.9,272.2 L436.4,271.5 L437.9,270.8 L439.4,270.1 L440.9,269.3 L442.4,268.6 L443.9,267.7 L445.4,266.9 L446.9,266.0 L448.4,265.1 L449.9,264.1 L451.4,263.1 L452.9,262.1 L454.4,261.0 L455.9,259.9 L457.4,258.8 L458.9,257.6 L460.4,256.4 L461.9,255.2 L463.4,253.9 L464.9,252.5 L466.4,251.2 L467.9,249.7 L469.4,248.3 L470.9,246.9 L472.4,245.5 L473.9,244.0 L475.4,242.4 L476.9,240.8 L478.4,239.0 L479.9,237.1 L481.4,235.1 L482.9,232.9 L484.4,230.5 L485.9,228.0 L487.4,225.3 L488.9,222.4 L490.4,219.3 L491.9,215.9 L493.4,212.3 L494.9,208.3 L496.4,203.8 L497.9,198.8 L499.4,193.7 L500.9,188.6 L502.4,183.4 L503.9,178.1 L505.4,172.9 L506.9,168.1 L508.4,163.2 L509.9,157.7 L511.4,151.3 L512.9,144.4 L514.4,136.2 L515.9,127.2 L517.4,119.8 L518.9,114.2 L520.4,109.5 L521.9,105.7 L522.6,104.3" stroke="#707070" stroke-width="0.8" fill="none" stroke-linejoin="round"/>
<path d="M394.4,319.0 L395.9,318.7 L397.4,318.3 L398.9,318.0 L400.4,317.7 L401.9,317.3 L403.4,317.0 L404.9,316.6 L406.4,316.3 L407.9,315.9 L409.4,315.5 L410.9,315.1 L412.4,314.7 L413.9,314.2 L415.4,313.8 L416.9,313.3 L418.4,312.8 L419.9,312.3 L421.4,311.8 L422.9,311.3 L424.4,310.7 L425.9,310.2 L427.4,309.6 L428.9,309.0 L430.4,308.3 L431.9,307.7 L433.4,306.9 L434.9,306.2 L436.4,305.4 L437.9,304.6 L439.4,303.7 L440.9,302.8 L442.4,301.8 L443.9,300.8 L445.4,299.8 L446.9,298.7 L448.4,297.5 L449.9,296.3 L451.4,295.0 L452.9,293.6 L454.4,292.2 L455.9,290.8 L457.4,289.3 L458.9,287.9 L460.4,286.5 L461.9,285.1 L463.4,283.7 L464.9,282.2 L466.4,280.7 L467.9,279.0 L469.4,277.3 L470.9,275.4 L472.4,273.4 L473.9,271.3 L475.4,269.1 L476.9,266.8 L478.4,264.5 L479.9,262.0 L481.4,259.4 L482.9,256.6 L484.4,253.7 L485.9,250.8 L487.4,247.8 L488.9,244.7 L490.4,241.3 L491.9,237.3 L493.4,233.0 L494.9,228.4 L496.4,223.7 L497.9,219.0 L499.4,214.1 L500.9,209.2 L502.4,204.1 L503.9,198.9 L505.4,193.7 L506.9,188.4 L508.4,183.0 L509.9,177.5 L511.4,171.9 L512.9,166.2 L514.4,159.5 L515.9,150.1 L517.4,140.7 L518.9,131.4 L520.4,123.6 L521.9,115.7 L523.4,106.5 L524.0,104.3" stroke="#ee8fa0" stroke-width="0.8" fill="none" stroke-linejoin="round"/>
<path d="M521.5,120.2 L523.0,119.9 L524.5,119.5 L526.0,119.2 L527.5,118.9 L529.0,118.6 L530.5,118.3 L532.0,118.0 L533.5,117.7 L535.0,117.5 L536.5,117.3 L538.0,117.0 L539.5,116.8 L541.0,116.6 L542.5,116.4 L544.0,116.2 L545.5,116.0 L547.0,115.8 L548.5,115.6 L550.0,115.4 L551.5,115.2 L553.0,115.0 L554.5,114.8 L556.0,114.7 L557.5,114.5 L559.0,114.4 L560.5,114.3 L562.0,114.2 L563.5,114.0 L565.0,113.8 L566.5,113.6 L568.0,113.3 L569.5,113.0 L571.0,112.3 L572.5,111.0 L574.0,109.8 L575.5,108.9 L577.0,108.1 L578.5,107.3 L580.0,106.7 L581.5,106.0 L583.0,105.4 L584.5,104.8 L586.0,104.3" stroke="#ee8fa0" stroke-width="0.8" fill="none" stroke-linejoin="round"/>
<path d="M569.9,112.9 L571.4,113.0 L572.9,113.1 L574.4,113.2 L575.9,113.3 L577.4,113.4 L578.9,113.5 L580.4,113.6 L581.9,113.7 L583.4,113.8 L584.9,113.8 L586.4,113.9 L587.9,113.9 L589.4,113.9 L590.9,113.4 L592.4,112.6 L593.9,111.5 L595.4,110.3 L596.9,109.1 L598.4,108.1 L599.9,107.3 L601.4,106.7 L602.9,106.1 L604.4,105.5 L605.9,105.0 L607.4,104.4 L607.7,104.3" stroke="#ee8fa0" stroke-width="0.8" fill="none" stroke-linejoin="round"/>
<path d="M394.3,69.7H438M394.3,85.5H419M394.3,115H399" stroke="#a87070" stroke-width="0.9" fill="none"/>
<path d="M394.3,99.5H425M432,99.6H463" stroke="#5a8c8c" stroke-width="0.9" fill="none"/>
<rect x="383.4" y="26.3" width="286.4" height="303.9" fill="none" stroke="#777" stroke-width="0.8"/>
<line x1="408.7" y1="330.2" x2="408.7" y2="334.4" stroke="#777" stroke-width="0.8"/>
<line x1="408.7" y1="26.3" x2="408.7" y2="23.1" stroke="#777" stroke-width="0.8"/>
<line x1="479.6" y1="330.2" x2="479.6" y2="334.4" stroke="#777" stroke-width="0.8"/>
<line x1="479.6" y1="26.3" x2="479.6" y2="23.1" stroke="#777" stroke-width="0.8"/>
<line x1="550.4" y1="330.2" x2="550.4" y2="334.4" stroke="#777" stroke-width="0.8"/>
<line x1="550.4" y1="26.3" x2="550.4" y2="23.1" stroke="#777" stroke-width="0.8"/>
<line x1="621.1" y1="330.2" x2="621.1" y2="334.4" stroke="#777" stroke-width="0.8"/>
<line x1="621.1" y1="26.3" x2="621.1" y2="23.1" stroke="#777" stroke-width="0.8"/>
<line x1="379.9" y1="104.3" x2="383.4" y2="104.3" stroke="#777" stroke-width="0.8"/>
<line x1="379.9" y1="189.8" x2="383.4" y2="189.8" stroke="#777" stroke-width="0.8"/>
<line x1="379.9" y1="275.3" x2="383.4" y2="275.3" stroke="#777" stroke-width="0.8"/>
<line x1="683.5" y1="1" x2="683.5" y2="376" stroke="#e4ebf3" stroke-width="0.9"/>
</g><g filter="url(#softt)"><g fill="#ff0000"><circle cx="41.70" cy="135.90" r="1.1"/><circle cx="43.51" cy="136.28" r="1.1"/><circle cx="45.31" cy="136.65" r="1.1"/><circle cx="47.12" cy="137.02" r="1.1"/><circle cx="48.92" cy="137.39" r="1.1"/><circle cx="50.73" cy="137.76" r="1.1"/><circle cx="52.53" cy="138.13" r="1.1"/><circle cx="54.34" cy="138.50" r="1.1"/><circle cx="56.14" cy="138.88" r="1.1"/><circle cx="57.95" cy="139.26" r="1.1"/><circle cx="59.75" cy="139.65" r="1.1"/><circle cx="61.56" cy="140.04" r="1.1"/><circle cx="63.36" cy="140.45" r="1.1"/><circle cx="65.17" cy="140.86" r="1.1"/><circle cx="66.97" cy="141.27" r="1.1"/><circle cx="68.78" cy="141.68" r="1.1"/><circle cx="70.58" cy="142.10" r="1.1"/><circle cx="72.39" cy="142.53" r="1.1"/><circle cx="74.19" cy="142.95" r="1.1"/><circle cx="76.00" cy="143.39" r="1.1"/><circle cx="77.80" cy="143.83" r="1.1"/><circle cx="79.61" cy="144.29" r="1.1"/><circle cx="81.41" cy="144.75" r="1.1"/><circle cx="83.22" cy="145.22" r="1.1"/><circle cx="85.02" cy="145.71" r="1.1"/><circle cx="86.83" cy="146.21" r="1.1"/><circle cx="88.63" cy="146.72" r="1.1"/><circle cx="90.44" cy="147.25" r="1.1"/><circle cx="92.24" cy="147.79" r="1.1"/><circle cx="94.05" cy="148.34" r="1.1"/><circle cx="95.85" cy="148.93" r="1.1"/><circle cx="97.66" cy="149.55" r="1.1"/><circle cx="99.46" cy="150.20" r="1.1"/><circle cx="101.27" cy="150.90" r="1.1"/><circle cx="103.07" cy="151.67" r="1.1"/><circle cx="104.88" cy="152.52" r="1.1"/><circle cx="106.68" cy="153.44" r="1.1"/><circle cx="108.49" cy="154.41" r="1.1"/><circle cx="110.29" cy="155.42" r="1.1"/><circle cx="112.10" cy="156.45" r="1.1"/><circle cx="113.90" cy="157.48" r="1.1"/><circle cx="115.71" cy="158.53" r="1.1"/><circle cx="117.51" cy="159.60" r="1.1"/><circle cx="119.32" cy="160.70" r="1.1"/><circle cx="121.12" cy="161.84" r="1.1"/><circle cx="122.93" cy="163.01" r="1.1"/><circle cx="124.73" cy="164.23" r="1.1"/><circle cx="126.54" cy="165.51" r="1.1"/><circle cx="128.34" cy="166.84" r="1.1"/><circle cx="130.15" cy="168.25" r="1.1"/><circle cx="131.95" cy="169.71" r="1.1"/><circle cx="133.75" cy="171.23" r="1.1"/><circle cx="135.56" cy="172.80" r="1.1"/><circle cx="137.37" cy="174.42" r="1.1"/><circle cx="139.17" cy="176.09" r="1.1"/><circle cx="140.98" cy="177.81" r="1.1"/><circle cx="142.78" cy="179.64" r="1.1"/><circle cx="144.59" cy="181.53" r="1.1"/><circle cx="146.39" cy="183.47" r="1.1"/><circle cx="148.19" cy="185.43" r="1.1"/><circle cx="150.00" cy="187.38" r="1.1"/><circle cx="151.81" cy="189.30" r="1.1"/><circle cx="153.61" cy="191.15" r="1.1"/><circle cx="155.42" cy="192.94" r="1.1"/><circle cx="157.22" cy="194.74" r="1.1"/><circle cx="159.03" cy="196.58" r="1.1"/><circle cx="160.83" cy="198.54" r="1.1"/><circle cx="162.64" cy="200.64" r="1.1"/><circle cx="164.44" cy="202.93" r="1.1"/><circle cx="166.25" cy="205.35" r="1.1"/><circle cx="168.05" cy="207.90" r="1.1"/><circle cx="169.86" cy="210.52" r="1.1"/><circle cx="171.66" cy="213.19" r="1.1"/><circle cx="173.47" cy="215.94" r="1.1"/><circle cx="175.27" cy="218.84" r="1.1"/><circle cx="177.07" cy="221.83" r="1.1"/><circle cx="178.88" cy="224.82" r="1.1"/><circle cx="180.69" cy="227.74" r="1.1"/><circle cx="182.49" cy="230.52" r="1.1"/><circle cx="184.30" cy="233.29" r="1.1"/><circle cx="186.10" cy="236.03" r="1.1"/><circle cx="187.91" cy="238.68" r="1.1"/><circle cx="189.71" cy="241.20" r="1.1"/><circle cx="191.52" cy="243.52" r="1.1"/><circle cx="193.32" cy="245.68" r="1.1"/><circle cx="195.12" cy="247.68" r="1.1"/><circle cx="196.93" cy="249.48" r="1.1"/><circle cx="198.74" cy="251.07" r="1.1"/><circle cx="200.54" cy="252.54" r="1.1"/><circle cx="202.35" cy="253.88" r="1.1"/><circle cx="204.15" cy="255.05" r="1.1"/><circle cx="205.96" cy="256.04" r="1.1"/><circle cx="207.76" cy="256.89" r="1.1"/><circle cx="209.56" cy="257.63" r="1.1"/><circle cx="211.37" cy="258.26" r="1.1"/><circle cx="213.18" cy="258.77" r="1.1"/><circle cx="214.98" cy="259.19" r="1.1"/><circle cx="216.79" cy="259.58" r="1.1"/><circle cx="218.59" cy="260.03" r="1.1"/><circle cx="220.40" cy="260.57" r="1.1"/><circle cx="222.20" cy="261.17" r="1.1"/><circle cx="224.00" cy="261.85" r="1.1"/><circle cx="225.81" cy="262.65" r="1.1"/><circle cx="227.62" cy="263.64" r="1.1"/><circle cx="229.42" cy="264.78" r="1.1"/><circle cx="231.23" cy="265.99" r="1.1"/><circle cx="233.03" cy="267.28" r="1.1"/><circle cx="234.84" cy="268.64" r="1.1"/><circle cx="236.64" cy="270.06" r="1.1"/><circle cx="238.44" cy="271.53" r="1.1"/><circle cx="240.25" cy="273.06" r="1.1"/><circle cx="242.06" cy="274.73" r="1.1"/><circle cx="243.86" cy="276.43" r="1.1"/><circle cx="245.67" cy="278.06" r="1.1"/><circle cx="247.47" cy="279.53" r="1.1"/><circle cx="249.28" cy="280.85" r="1.1"/><circle cx="251.08" cy="282.10" r="1.1"/><circle cx="252.89" cy="283.27" r="1.1"/><circle cx="254.69" cy="284.39" r="1.1"/><circle cx="256.50" cy="285.48" r="1.1"/><circle cx="258.30" cy="286.56" r="1.1"/><circle cx="260.11" cy="287.60" r="1.1"/><circle cx="261.91" cy="288.55" r="1.1"/><circle cx="263.72" cy="289.35" r="1.1"/><circle cx="265.52" cy="289.99" r="1.1"/><circle cx="267.33" cy="290.52" r="1.1"/><circle cx="269.13" cy="290.99" r="1.1"/><circle cx="270.94" cy="291.44" r="1.1"/><circle cx="272.74" cy="291.91" r="1.1"/><circle cx="274.55" cy="292.44" r="1.1"/><circle cx="276.35" cy="293.05" r="1.1"/><circle cx="278.16" cy="293.69" r="1.1"/><circle cx="279.96" cy="294.27" r="1.1"/><circle cx="281.77" cy="294.76" r="1.1"/><circle cx="283.57" cy="295.26" r="1.1"/><circle cx="285.38" cy="295.68" r="1.1"/><circle cx="287.18" cy="295.89" r="1.1"/><circle cx="288.99" cy="295.68" r="1.1"/><circle cx="290.79" cy="294.96" r="1.1"/><circle cx="292.60" cy="294.00" r="1.1"/><circle cx="294.40" cy="292.57" r="1.1"/><circle cx="296.21" cy="290.50" r="1.1"/><circle cx="298.01" cy="288.15" r="1.1"/><circle cx="299.81" cy="285.33" r="1.1"/><circle cx="301.62" cy="282.11" r="1.1"/><circle cx="303.43" cy="278.75" r="1.1"/><circle cx="305.23" cy="275.18" r="1.1"/><circle cx="307.04" cy="271.37" r="1.1"/><circle cx="308.84" cy="267.23" r="1.1"/><circle cx="310.65" cy="262.68" r="1.1"/><circle cx="312.45" cy="258.19" r="1.1"/><circle cx="314.25" cy="254.09" r="1.1"/><circle cx="316.06" cy="250.21" r="1.1"/><circle cx="317.87" cy="246.34" r="1.1"/><circle cx="319.67" cy="242.29" r="1.1"/><circle cx="321.48" cy="237.90" r="1.1"/><circle cx="323.28" cy="233.22" r="1.1"/><circle cx="325.09" cy="228.35" r="1.1"/><circle cx="326.89" cy="223.38" r="1.1"/><circle cx="328.69" cy="218.40" r="1.1"/><circle cx="330.50" cy="213.50" r="1.1"/></g></g><g filter="url(#softt)"><text transform="translate(57.9,349.8) scale(0.7,1)" font-size="8.6" text-anchor="middle" fill="#2a2a2a" stroke="#2a2a2a" stroke-width="0.16">-8</text>
<text transform="translate(134.7,349.8) scale(0.7,1)" font-size="8.6" text-anchor="middle" fill="#2a2a2a" stroke="#2a2a2a" stroke-width="0.16">-6</text>
<text transform="translate(211.5,349.8) scale(0.7,1)" font-size="8.6" text-anchor="middle" fill="#2a2a2a" stroke="#2a2a2a" stroke-width="0.16">-4</text>
<text transform="translate(288.1,349.8) scale(0.7,1)" font-size="8.6" text-anchor="middle" fill="#2a2a2a" stroke="#2a2a2a" stroke-width="0.16">-2</text>
<text transform="translate(20.8,30.8) rotate(-90) scale(1,0.8)" font-size="7.5" text-anchor="middle" fill="#2a2a2a" stroke="#2a2a2a" stroke-width="0.16">1.4</text>
<text transform="translate(20.8,76.3) rotate(-90) scale(1,0.8)" font-size="7.5" text-anchor="middle" fill="#2a2a2a" stroke="#2a2a2a" stroke-width="0.16">1.3</text>
<text transform="translate(20.8,121.8) rotate(-90) scale(1,0.8)" font-size="7.5" text-anchor="middle" fill="#2a2a2a" stroke="#2a2a2a" stroke-width="0.16">1.2</text>
<text transform="translate(20.8,167.3) rotate(-90) scale(1,0.8)" font-size="7.5" text-anchor="middle" fill="#2a2a2a" stroke="#2a2a2a" stroke-width="0.16">1.1</text>
<text transform="translate(20.8,212.8) rotate(-90) scale(1,0.8)" font-size="7.5" text-anchor="middle" fill="#2a2a2a" stroke="#2a2a2a" stroke-width="0.16">1.0</text>
<text transform="translate(20.8,258.3) rotate(-90) scale(1,0.8)" font-size="7.5" text-anchor="middle" fill="#2a2a2a" stroke="#2a2a2a" stroke-width="0.16">0.9</text>
<text transform="translate(20.8,303.8) rotate(-90) scale(1,0.8)" font-size="7.5" text-anchor="middle" fill="#2a2a2a" stroke="#2a2a2a" stroke-width="0.16">0.8</text>
<text transform="translate(5.2,180.1) rotate(-90) scale(1,0.75)" font-size="7.85" text-anchor="middle" fill="#2a2a2a" stroke="#2a2a2a" stroke-width="0.16">Mean-Squared Error</text>
<text transform="translate(176.0,367.8) scale(0.7,1)" font-size="8.8" text-anchor="start" fill="#2a2a2a" stroke="#2a2a2a" stroke-width="0.16">Log</text>
<text transform="translate(186.6,367.6) scale(0.62,1)" font-size="9.6" text-anchor="start" fill="#2a2a2a" stroke="#2a2a2a" stroke-width="0.16">(</text>
<text transform="translate(189.2,367.8) scale(0.78,1)" font-size="8.2" text-anchor="start" fill="#2a2a2a" stroke="#2a2a2a" stroke-width="0.16">λ</text>
<text transform="translate(193.1,367.6) scale(0.62,1)" font-size="9.6" text-anchor="start" fill="#2a2a2a" stroke="#2a2a2a" stroke-width="0.16">)</text>
<text transform="translate(41.5,17.0) scale(0.735,1)" font-size="8.6" text-anchor="middle" fill="#2a2a2a" stroke="#2a2a2a" stroke-width="0.16">30</text>
<text transform="translate(53.7,17.0) scale(0.735,1)" font-size="8.6" text-anchor="middle" fill="#2a2a2a" stroke="#2a2a2a" stroke-width="0.16">29</text>
<text transform="translate(66.1,17.0) scale(0.735,1)" font-size="8.6" text-anchor="middle" fill="#2a2a2a" stroke="#2a2a2a" stroke-width="0.16">29</text>
<text transform="translate(78.5,17.0) scale(0.735,1)" font-size="8.6" text-anchor="middle" fill="#2a2a2a" stroke="#2a2a2a" stroke-width="0.16">29</text>
<text transform="translate(90.7,17.0) scale(0.735,1)" font-size="8.6" text-anchor="middle" fill="#2a2a2a" stroke="#2a2a2a" stroke-width="0.16">29</text>
<text transform="translate(103.0,17.0) scale(0.735,1)" font-size="8.6" text-anchor="middle" fill="#2a2a2a" stroke="#2a2a2a" stroke-width="0.16">29</text>
<text transform="translate(115.5,17.0) scale(0.735,1)" font-size="8.6" text-anchor="middle" fill="#2a2a2a" stroke="#2a2a2a" stroke-width="0.16">28</text>
<text transform="translate(127.8,17.0) scale(0.735,1)" font-size="8.6" text-anchor="middle" fill="#2a2a2a" stroke="#2a2a2a" stroke-width="0.16">28</text>
<text transform="translate(140.3,17.0) scale(0.735,1)" font-size="8.6" text-anchor="middle" fill="#2a2a2a" stroke="#2a2a2a" stroke-width="0.16">27</text>
<text transform="translate(152.5,17.0) scale(0.735,1)" font-size="8.6" text-anchor="middle" fill="#2a2a2a" stroke="#2a2a2a" stroke-width="0.16">28</text>
<text transform="translate(164.8,17.0) scale(0.735,1)" font-size="8.6" text-anchor="middle" fill="#2a2a2a" stroke="#2a2a2a" stroke-width="0.16">25</text>
<text transform="translate(178.8,17.0) scale(0.735,1)" font-size="8.6" text-anchor="middle" fill="#2a2a2a" stroke="#2a2a2a" stroke-width="0.16">24</text>
<text transform="translate(191.4,17.0) scale(0.735,1)" font-size="8.6" text-anchor="middle" fill="#2a2a2a" stroke="#2a2a2a" stroke-width="0.16">20</text>
<text transform="translate(203.8,17.0) scale(0.735,1)" font-size="8.6" text-anchor="middle" fill="#2a2a2a" stroke="#2a2a2a" stroke-width="0.16">20</text>
<text transform="translate(216.2,17.0) scale(0.735,1)" font-size="8.6" text-anchor="middle" fill="#2a2a2a" stroke="#2a2a2a" stroke-width="0.16">19</text>
<text transform="translate(228.8,17.0) scale(0.735,1)" font-size="8.6" text-anchor="middle" fill="#2a2a2a" stroke="#2a2a2a" stroke-width="0.16">18</text>
<text transform="translate(241.2,17.0) scale(0.735,1)" font-size="8.6" text-anchor="middle" fill="#2a2a2a" stroke="#2a2a2a" stroke-width="0.16">16</text>
<text transform="translate(253.8,17.0) scale(0.735,1)" font-size="8.6" text-anchor="middle" fill="#2a2a2a" stroke="#2a2a2a" stroke-width="0.16">10</text>
<text transform="translate(263.9,17.0) scale(0.735,1)" font-size="8.6" text-anchor="middle" fill="#2a2a2a" stroke="#2a2a2a" stroke-width="0.16">9</text>
<text transform="translate(272.8,17.0) scale(0.735,1)" font-size="8.6" text-anchor="middle" fill="#2a2a2a" stroke="#2a2a2a" stroke-width="0.16">7</text>
<text transform="translate(281.8,17.0) scale(0.735,1)" font-size="8.6" text-anchor="middle" fill="#2a2a2a" stroke="#2a2a2a" stroke-width="0.16">5</text>
<text transform="translate(290.4,17.0) scale(0.735,1)" font-size="8.6" text-anchor="middle" fill="#2a2a2a" stroke="#2a2a2a" stroke-width="0.16">4</text>
<text transform="translate(299.5,17.0) scale(0.735,1)" font-size="8.6" text-anchor="middle" fill="#2a2a2a" stroke="#2a2a2a" stroke-width="0.16">4</text>
<text transform="translate(308.6,17.0) scale(0.735,1)" font-size="8.6" text-anchor="middle" fill="#2a2a2a" stroke="#2a2a2a" stroke-width="0.16">3</text>
<text transform="translate(317.5,17.0) scale(0.735,1)" font-size="8.6" text-anchor="middle" fill="#2a2a2a" stroke="#2a2a2a" stroke-width="0.16">2</text>
<text transform="translate(326.3,17.0) scale(0.735,1)" font-size="8.6" text-anchor="middle" fill="#2a2a2a" stroke="#2a2a2a" stroke-width="0.16">1</text>
<text transform="translate(388.7,39.9) scale(0.55,1)" font-size="5.4" text-anchor="middle" fill="#3c3c44" stroke="#3c3c44" stroke-width="0.08">30</text>
<text transform="translate(388.7,56.5) scale(0.55,1)" font-size="5.4" text-anchor="middle" fill="#3c3c44" stroke="#3c3c44" stroke-width="0.08">29</text>
<text transform="translate(388.7,65.1) scale(0.55,1)" font-size="5.4" text-anchor="middle" fill="#3c3c44" stroke="#3c3c44" stroke-width="0.08">17</text>
<text transform="translate(388.7,69.9) scale(0.55,1)" font-size="5.4" text-anchor="middle" fill="#3c3c44" stroke="#3c3c44" stroke-width="0.08">6</text>
<text transform="translate(388.7,72.1) scale(0.55,1)" font-size="5.4" text-anchor="middle" fill="#3c3c44" stroke="#3c3c44" stroke-width="0.08">16</text>
<text transform="translate(388.7,75.3) scale(0.55,1)" font-size="5.4" text-anchor="middle" fill="#3c3c44" stroke="#3c3c44" stroke-width="0.08">18</text>
<text transform="translate(388.7,77.7) scale(0.55,1)" font-size="5.4" text-anchor="middle" fill="#3c3c44" stroke="#3c3c44" stroke-width="0.08">10</text>
<text transform="translate(388.7,81.7) scale(0.55,1)" font-size="5.4" text-anchor="middle" fill="#3c3c44" stroke="#3c3c44" stroke-width="0.08">27</text>
<text transform="translate(388.7,86.9) scale(0.55,1)" font-size="5.4" text-anchor="middle" fill="#3c3c44" stroke="#3c3c44" stroke-width="0.08">13</text>
<text transform="translate(388.7,88.9) scale(0.55,1)" font-size="5.4" text-anchor="middle" fill="#3c3c44" stroke="#3c3c44" stroke-width="0.08">22</text>
<text transform="translate(388.7,92.6) scale(0.55,1)" font-size="5.4" text-anchor="middle" fill="#3c3c44" stroke="#3c3c44" stroke-width="0.08">11</text>
<text transform="translate(388.7,95.9) scale(0.55,1)" font-size="5.4" text-anchor="middle" fill="#3c3c44" stroke="#3c3c44" stroke-width="0.08">12</text>
<text transform="translate(388.7,98.9) scale(0.55,1)" font-size="5.4" text-anchor="middle" fill="#3c3c44" stroke="#3c3c44" stroke-width="0.08">4</text>
<text transform="translate(388.7,101.4) scale(0.55,1)" font-size="5.4" text-anchor="middle" fill="#3c3c44" stroke="#3c3c44" stroke-width="0.08">19</text>
<text transform="translate(388.7,105.4) scale(0.55,1)" font-size="5.4" text-anchor="middle" fill="#3c3c44" stroke="#3c3c44" stroke-width="0.08">9</text>
<text transform="translate(388.7,116.4) scale(0.55,1)" font-size="5.4" text-anchor="middle" fill="#3c3c44" stroke="#3c3c44" stroke-width="0.08">5</text>
<text transform="translate(388.7,118.4) scale(0.55,1)" font-size="5.4" text-anchor="middle" fill="#3c3c44" stroke="#3c3c44" stroke-width="0.08">28</text>
<text transform="translate(388.7,129.9) scale(0.55,1)" font-size="5.4" text-anchor="middle" fill="#3c3c44" stroke="#3c3c44" stroke-width="0.08">23</text>
<text transform="translate(388.7,154.5) scale(0.55,1)" font-size="5.4" text-anchor="middle" fill="#3c3c44" stroke="#3c3c44" stroke-width="0.08">14</text>
<text transform="translate(388.7,158.4) scale(0.55,1)" font-size="5.4" text-anchor="middle" fill="#3c3c44" stroke="#3c3c44" stroke-width="0.08">24</text>
<text transform="translate(388.7,166.3) scale(0.55,1)" font-size="5.4" text-anchor="middle" fill="#3c3c44" stroke="#3c3c44" stroke-width="0.08">26</text>
<text transform="translate(388.7,180.3) scale(0.55,1)" font-size="5.4" text-anchor="middle" fill="#3c3c44" stroke="#3c3c44" stroke-width="0.08">25</text>
<text transform="translate(388.7,284.3) scale(0.55,1)" font-size="5.4" text-anchor="middle" fill="#3c3c44" stroke="#3c3c44" stroke-width="0.08">7</text>
<text transform="translate(388.7,320.9) scale(0.55,1)" font-size="5.4" text-anchor="middle" fill="#3c3c44" stroke="#3c3c44" stroke-width="0.08">8</text>
<text transform="translate(408.7,349.3) scale(0.7,1)" font-size="8.6" text-anchor="middle" fill="#2a2a2a" stroke="#2a2a2a" stroke-width="0.16">-8</text>
<text transform="translate(408.7,14.6) scale(0.7,1)" font-size="8.6" text-anchor="middle" fill="#2a2a2a" stroke="#2a2a2a" stroke-width="0.16">29</text>
<text transform="translate(479.6,349.3) scale(0.7,1)" font-size="8.6" text-anchor="middle" fill="#2a2a2a" stroke="#2a2a2a" stroke-width="0.16">-6</text>
<text transform="translate(479.6,14.6) scale(0.7,1)" font-size="8.6" text-anchor="middle" fill="#2a2a2a" stroke="#2a2a2a" stroke-width="0.16">28</text>
<text transform="translate(550.4,349.3) scale(0.7,1)" font-size="8.6" text-anchor="middle" fill="#2a2a2a" stroke="#2a2a2a" stroke-width="0.16">-4</text>
<text transform="translate(550.4,14.6) scale(0.7,1)" font-size="8.6" text-anchor="middle" fill="#2a2a2a" stroke="#2a2a2a" stroke-width="0.16">19</text>
<text transform="translate(621.1,349.3) scale(0.7,1)" font-size="8.6" text-anchor="middle" fill="#2a2a2a" stroke="#2a2a2a" stroke-width="0.16">-2</text>
<text transform="translate(621.1,14.6) scale(0.7,1)" font-size="8.6" text-anchor="middle" fill="#2a2a2a" stroke="#2a2a2a" stroke-width="0.16">4</text>
<text transform="translate(375.1,104.3) rotate(-90) scale(1,0.8)" font-size="8.3" text-anchor="middle" fill="#2a2a2a" stroke="#2a2a2a" stroke-width="0.16">0.0</text>
<text transform="translate(375.1,189.8) rotate(-90) scale(1,0.8)" font-size="8.3" text-anchor="middle" fill="#2a2a2a" stroke="#2a2a2a" stroke-width="0.16">-0.5</text>
<text transform="translate(375.1,275.3) rotate(-90) scale(1,0.8)" font-size="8.3" text-anchor="middle" fill="#2a2a2a" stroke="#2a2a2a" stroke-width="0.16">-1.0</text>
<text transform="translate(361.2,178.2) rotate(-90) scale(1,0.75)" font-size="8.45" text-anchor="middle" fill="#2a2a2a" stroke="#2a2a2a" stroke-width="0.16">Coefficients</text>
<text transform="translate(526.5,369.9) scale(0.7,1)" font-size="8.6" text-anchor="middle" fill="#2a2a2a" stroke="#2a2a2a" stroke-width="0.16">Log Lambda</text></g></svg>
</body></html>
